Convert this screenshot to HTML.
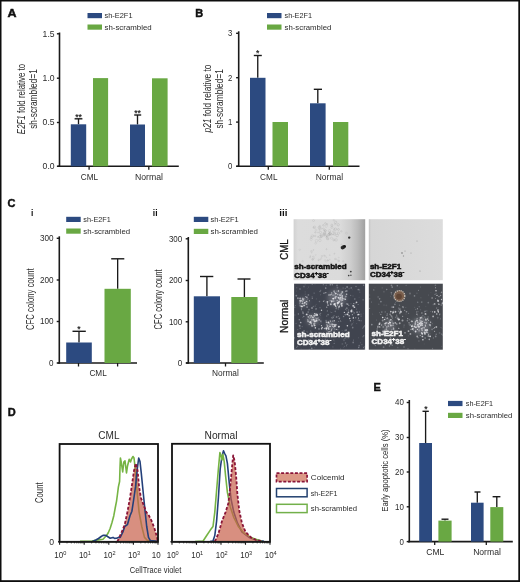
<!DOCTYPE html><html><head><meta charset="utf-8"><style>html,body{margin:0;padding:0;background:#fff;width:520px;height:582px;overflow:hidden}</style></head><body><svg width="520" height="582" viewBox="0 0 520 582" style="position:absolute;left:0;top:0;will-change:transform;font-family:'Liberation Sans', sans-serif">
<rect x="0" y="0" width="520" height="582" fill="#fff"/>
<text x="7.40" y="16.80" font-size="11" textLength="9.00" lengthAdjust="spacingAndGlyphs" font-weight="bold" fill="#111" stroke="#111" stroke-width="0.45">A</text>
<rect x="87.50" y="13.00" width="14.50" height="5.20" fill="#2c4a80" />
<rect x="87.50" y="24.50" width="14.50" height="5.20" fill="#69a843" />
<text x="104.50" y="18.40" font-size="7.6" textLength="28.00" lengthAdjust="spacingAndGlyphs" fill="#2a2a2a" >sh-E2F1</text>
<text x="104.50" y="29.90" font-size="7.6" textLength="47.20" lengthAdjust="spacingAndGlyphs" fill="#2a2a2a" >sh-scrambled</text>
<line x1="59.50" y1="32.50" x2="59.50" y2="167.00" stroke="#1a1a1a" stroke-width="1.6" />
<line x1="56.90" y1="33.80" x2="59.50" y2="33.80" stroke="#1a1a1a" stroke-width="1.4" />
<text x="54.60" y="36.70" font-size="8.3" text-anchor="end" textLength="12.00" lengthAdjust="spacingAndGlyphs" fill="#2a2a2a" >1.5</text>
<line x1="56.90" y1="78.20" x2="59.50" y2="78.20" stroke="#1a1a1a" stroke-width="1.4" />
<text x="54.60" y="81.11" font-size="8.3" text-anchor="end" textLength="12.00" lengthAdjust="spacingAndGlyphs" fill="#2a2a2a" >1.0</text>
<line x1="56.90" y1="122.50" x2="59.50" y2="122.50" stroke="#1a1a1a" stroke-width="1.4" />
<text x="54.60" y="125.41" font-size="8.3" text-anchor="end" textLength="12.00" lengthAdjust="spacingAndGlyphs" fill="#2a2a2a" >0.5</text>
<line x1="56.90" y1="166.30" x2="59.50" y2="166.30" stroke="#1a1a1a" stroke-width="1.4" />
<text x="54.60" y="169.21" font-size="8.3" text-anchor="end" textLength="12.00" lengthAdjust="spacingAndGlyphs" fill="#2a2a2a" >0.0</text>
<line x1="57.50" y1="166.30" x2="178.80" y2="166.30" stroke="#1a1a1a" stroke-width="1.6" />
<line x1="89.10" y1="166.30" x2="89.10" y2="169.80" stroke="#1a1a1a" stroke-width="1.3" />
<line x1="148.80" y1="166.30" x2="148.80" y2="169.80" stroke="#1a1a1a" stroke-width="1.3" />
<line x1="78.50" y1="124.30" x2="78.50" y2="118.80" stroke="#1a1a1a" stroke-width="1.35" />
<line x1="74.60" y1="118.80" x2="82.40" y2="118.80" stroke="#1a1a1a" stroke-width="1.4" />
<rect x="70.80" y="124.30" width="15.40" height="42.00" fill="#2c4a80" />
<rect x="93.00" y="78.10" width="15.10" height="88.20" fill="#69a843" />
<line x1="137.50" y1="124.50" x2="137.50" y2="115.00" stroke="#1a1a1a" stroke-width="1.35" />
<line x1="134.20" y1="115.00" x2="141.20" y2="115.00" stroke="#1a1a1a" stroke-width="1.4" />
<rect x="130.00" y="124.50" width="15.00" height="41.80" fill="#2c4a80" />
<rect x="152.00" y="78.30" width="15.60" height="88.00" fill="#69a843" />
<text x="78.50" y="120.00" font-size="8.5" text-anchor="middle" font-weight="bold" fill="#2a2a2a" >**</text>
<text x="137.60" y="115.80" font-size="8.5" text-anchor="middle" font-weight="bold" fill="#2a2a2a" >**</text>
<text x="89.40" y="179.60" font-size="8.3" text-anchor="middle" textLength="17.30" lengthAdjust="spacingAndGlyphs" fill="#2a2a2a" >CML</text>
<text x="149.00" y="179.60" font-size="8.3" text-anchor="middle" textLength="28.00" lengthAdjust="spacingAndGlyphs" fill="#2a2a2a" >Normal</text>
<text transform="translate(24.7,99.0) rotate(-90)" font-size="10.4" text-anchor="middle" fill="#2a2a2a" textLength="70.3" lengthAdjust="spacingAndGlyphs"><tspan font-style="italic">E2F1</tspan> fold relative to</text>
<text transform="translate(36.50,99.00) rotate(-90)" x="0" y="0" font-size="10.4" text-anchor="middle" textLength="59.60" lengthAdjust="spacingAndGlyphs" fill="#2a2a2a" >sh-scrambled=1</text>
<text x="195.20" y="16.80" font-size="11" font-weight="bold" fill="#111" stroke="#111" stroke-width="0.45">B</text>
<rect x="267.00" y="13.00" width="14.50" height="5.20" fill="#2c4a80" />
<rect x="267.00" y="24.50" width="14.50" height="5.20" fill="#69a843" />
<text x="284.50" y="18.40" font-size="7.6" textLength="27.50" lengthAdjust="spacingAndGlyphs" fill="#2a2a2a" >sh-E2F1</text>
<text x="284.50" y="29.90" font-size="7.6" textLength="46.80" lengthAdjust="spacingAndGlyphs" fill="#2a2a2a" >sh-scrambled</text>
<line x1="238.70" y1="31.30" x2="238.70" y2="167.00" stroke="#1a1a1a" stroke-width="1.6" />
<line x1="236.10" y1="33.30" x2="238.70" y2="33.30" stroke="#1a1a1a" stroke-width="1.4" />
<text x="232.40" y="36.45" font-size="9.0" text-anchor="end" textLength="4.30" lengthAdjust="spacingAndGlyphs" fill="#2a2a2a" >3</text>
<line x1="236.10" y1="77.70" x2="238.70" y2="77.70" stroke="#1a1a1a" stroke-width="1.4" />
<text x="232.40" y="80.85" font-size="9.0" text-anchor="end" textLength="4.30" lengthAdjust="spacingAndGlyphs" fill="#2a2a2a" >2</text>
<line x1="236.10" y1="122.10" x2="238.70" y2="122.10" stroke="#1a1a1a" stroke-width="1.4" />
<text x="232.40" y="125.25" font-size="9.0" text-anchor="end" textLength="4.30" lengthAdjust="spacingAndGlyphs" fill="#2a2a2a" >1</text>
<line x1="236.10" y1="166.30" x2="238.70" y2="166.30" stroke="#1a1a1a" stroke-width="1.4" />
<text x="232.40" y="169.45" font-size="9.0" text-anchor="end" textLength="4.30" lengthAdjust="spacingAndGlyphs" fill="#2a2a2a" >0</text>
<line x1="236.40" y1="166.30" x2="359.50" y2="166.30" stroke="#1a1a1a" stroke-width="1.6" />
<line x1="268.30" y1="166.30" x2="268.30" y2="169.80" stroke="#1a1a1a" stroke-width="1.3" />
<line x1="329.30" y1="166.30" x2="329.30" y2="169.80" stroke="#1a1a1a" stroke-width="1.3" />
<line x1="257.75" y1="77.80" x2="257.75" y2="55.50" stroke="#1a1a1a" stroke-width="1.35" />
<line x1="253.80" y1="55.50" x2="261.80" y2="55.50" stroke="#1a1a1a" stroke-width="1.4" />
<rect x="250.00" y="77.80" width="15.50" height="88.50" fill="#2c4a80" />
<rect x="272.50" y="122.00" width="15.50" height="44.30" fill="#69a843" />
<line x1="317.80" y1="103.30" x2="317.80" y2="89.30" stroke="#1a1a1a" stroke-width="1.35" />
<line x1="313.80" y1="89.30" x2="322.00" y2="89.30" stroke="#1a1a1a" stroke-width="1.4" />
<rect x="310.00" y="103.30" width="15.60" height="63.00" fill="#2c4a80" />
<rect x="333.00" y="122.00" width="15.30" height="44.30" fill="#69a843" />
<text x="257.60" y="56.20" font-size="8.5" text-anchor="middle" font-weight="bold" fill="#2a2a2a" >*</text>
<text x="268.80" y="179.60" font-size="8.3" text-anchor="middle" textLength="17.40" lengthAdjust="spacingAndGlyphs" fill="#2a2a2a" >CML</text>
<text x="329.40" y="179.60" font-size="8.3" text-anchor="middle" textLength="27.30" lengthAdjust="spacingAndGlyphs" fill="#2a2a2a" >Normal</text>
<text transform="translate(210.7,98.5) rotate(-90)" font-size="10.4" text-anchor="middle" fill="#2a2a2a" textLength="67.8" lengthAdjust="spacingAndGlyphs"><tspan font-style="italic">p21</tspan> fold relative to</text>
<text transform="translate(222.70,98.85) rotate(-90)" x="0" y="0" font-size="10.4" text-anchor="middle" textLength="59.40" lengthAdjust="spacingAndGlyphs" fill="#2a2a2a" >sh-scrambled=1</text>
<text x="7.60" y="207.20" font-size="11" font-weight="bold" fill="#111" stroke="#111" stroke-width="0.45">C</text>
<text x="31.00" y="216.20" font-size="8.5" font-weight="bold" fill="#111" >i</text>
<text x="152.80" y="216.30" font-size="8.5" font-weight="bold" fill="#111" >ii</text>
<text x="279.30" y="216.30" font-size="8.5" font-weight="bold" fill="#111" textLength="8.2" lengthAdjust="spacingAndGlyphs">iii</text>
<rect x="66.20" y="216.80" width="14.50" height="5.20" fill="#2c4a80" />
<rect x="66.20" y="228.50" width="14.50" height="5.20" fill="#69a843" />
<text x="83.30" y="222.20" font-size="7.6" textLength="27.50" lengthAdjust="spacingAndGlyphs" fill="#2a2a2a" >sh-E2F1</text>
<text x="83.30" y="233.90" font-size="7.6" textLength="46.80" lengthAdjust="spacingAndGlyphs" fill="#2a2a2a" >sh-scrambled</text>
<line x1="59.30" y1="236.30" x2="59.30" y2="363.70" stroke="#1a1a1a" stroke-width="1.6" />
<line x1="56.70" y1="238.30" x2="59.30" y2="238.30" stroke="#1a1a1a" stroke-width="1.4" />
<text x="53.60" y="241.21" font-size="8.3" text-anchor="end" textLength="13.60" lengthAdjust="spacingAndGlyphs" fill="#2a2a2a" >300</text>
<line x1="56.70" y1="280.00" x2="59.30" y2="280.00" stroke="#1a1a1a" stroke-width="1.4" />
<text x="53.60" y="282.90" font-size="8.3" text-anchor="end" textLength="13.60" lengthAdjust="spacingAndGlyphs" fill="#2a2a2a" >200</text>
<line x1="56.70" y1="321.50" x2="59.30" y2="321.50" stroke="#1a1a1a" stroke-width="1.4" />
<text x="53.60" y="324.40" font-size="8.3" text-anchor="end" textLength="13.60" lengthAdjust="spacingAndGlyphs" fill="#2a2a2a" >100</text>
<line x1="56.70" y1="363.00" x2="59.30" y2="363.00" stroke="#1a1a1a" stroke-width="1.4" />
<text x="53.60" y="365.90" font-size="8.3" text-anchor="end" textLength="4.50" lengthAdjust="spacingAndGlyphs" fill="#2a2a2a" >0</text>
<line x1="57.50" y1="363.00" x2="137.00" y2="363.00" stroke="#1a1a1a" stroke-width="1.6" />
<line x1="78.50" y1="363.00" x2="78.50" y2="366.50" stroke="#1a1a1a" stroke-width="1.3" />
<line x1="117.60" y1="363.00" x2="117.60" y2="366.50" stroke="#1a1a1a" stroke-width="1.3" />
<line x1="79.00" y1="342.50" x2="79.00" y2="331.30" stroke="#1a1a1a" stroke-width="1.35" />
<line x1="72.50" y1="331.30" x2="85.80" y2="331.30" stroke="#1a1a1a" stroke-width="1.4" />
<rect x="66.20" y="342.50" width="25.60" height="20.50" fill="#2c4a80" />
<line x1="117.65" y1="288.80" x2="117.65" y2="258.80" stroke="#1a1a1a" stroke-width="1.35" />
<line x1="111.20" y1="258.80" x2="124.30" y2="258.80" stroke="#1a1a1a" stroke-width="1.4" />
<rect x="104.50" y="288.80" width="26.30" height="74.20" fill="#69a843" />
<text x="78.80" y="331.80" font-size="8.5" text-anchor="middle" font-weight="bold" fill="#2a2a2a" >*</text>
<text x="98.10" y="376.40" font-size="8.3" text-anchor="middle" textLength="17.30" lengthAdjust="spacingAndGlyphs" fill="#2a2a2a" >CML</text>
<text transform="translate(33.80,299.20) rotate(-90)" x="0" y="0" font-size="10.4" text-anchor="middle" textLength="61.60" lengthAdjust="spacingAndGlyphs" fill="#2a2a2a" >CFC colony count</text>
<rect x="193.80" y="216.80" width="14.50" height="5.20" fill="#2c4a80" />
<rect x="193.80" y="228.80" width="14.50" height="5.20" fill="#69a843" />
<text x="210.50" y="222.20" font-size="7.6" textLength="28.20" lengthAdjust="spacingAndGlyphs" fill="#2a2a2a" >sh-E2F1</text>
<text x="210.50" y="234.20" font-size="7.6" textLength="47.50" lengthAdjust="spacingAndGlyphs" fill="#2a2a2a" >sh-scrambled</text>
<line x1="188.30" y1="237.00" x2="188.30" y2="363.70" stroke="#1a1a1a" stroke-width="1.6" />
<line x1="185.70" y1="238.80" x2="188.30" y2="238.80" stroke="#1a1a1a" stroke-width="1.4" />
<text x="182.20" y="241.71" font-size="8.3" text-anchor="end" textLength="13.30" lengthAdjust="spacingAndGlyphs" fill="#2a2a2a" >300</text>
<line x1="185.70" y1="280.50" x2="188.30" y2="280.50" stroke="#1a1a1a" stroke-width="1.4" />
<text x="182.20" y="283.40" font-size="8.3" text-anchor="end" textLength="13.30" lengthAdjust="spacingAndGlyphs" fill="#2a2a2a" >200</text>
<line x1="185.70" y1="321.80" x2="188.30" y2="321.80" stroke="#1a1a1a" stroke-width="1.4" />
<text x="182.20" y="324.70" font-size="8.3" text-anchor="end" textLength="13.30" lengthAdjust="spacingAndGlyphs" fill="#2a2a2a" >100</text>
<line x1="185.70" y1="363.00" x2="188.30" y2="363.00" stroke="#1a1a1a" stroke-width="1.4" />
<text x="182.20" y="365.90" font-size="8.3" text-anchor="end" textLength="4.50" lengthAdjust="spacingAndGlyphs" fill="#2a2a2a" >0</text>
<line x1="186.00" y1="363.00" x2="263.80" y2="363.00" stroke="#1a1a1a" stroke-width="1.6" />
<line x1="225.50" y1="363.00" x2="225.50" y2="366.50" stroke="#1a1a1a" stroke-width="1.3" />
<line x1="206.90" y1="296.30" x2="206.90" y2="276.50" stroke="#1a1a1a" stroke-width="1.35" />
<line x1="200.00" y1="276.50" x2="213.30" y2="276.50" stroke="#1a1a1a" stroke-width="1.4" />
<rect x="193.80" y="296.30" width="26.20" height="66.70" fill="#2c4a80" />
<line x1="244.40" y1="297.00" x2="244.40" y2="279.00" stroke="#1a1a1a" stroke-width="1.35" />
<line x1="237.50" y1="279.00" x2="250.50" y2="279.00" stroke="#1a1a1a" stroke-width="1.4" />
<rect x="231.30" y="297.00" width="26.20" height="66.00" fill="#69a843" />
<text x="225.40" y="376.40" font-size="8.3" text-anchor="middle" textLength="26.80" lengthAdjust="spacingAndGlyphs" fill="#2a2a2a" >Normal</text>
<text transform="translate(162.20,299.40) rotate(-90)" x="0" y="0" font-size="10.4" text-anchor="middle" textLength="60.00" lengthAdjust="spacingAndGlyphs" fill="#2a2a2a" >CFC colony count</text>
<defs><linearGradient id="gTL" x1="0" y1="0" x2="1" y2="0"><stop offset="0" stop-color="#d2d2d2"/><stop offset="0.06" stop-color="#dcdcdc"/><stop offset="0.65" stop-color="#dbdbdb"/><stop offset="0.8" stop-color="#cdcdcd"/><stop offset="0.9" stop-color="#bababa"/><stop offset="1" stop-color="#a0a0a0"/></linearGradient><linearGradient id="gTR" x1="0" y1="0" x2="1" y2="0"><stop offset="0" stop-color="#c4c4c4"/><stop offset="0.03" stop-color="#d6d6d6"/><stop offset="0.5" stop-color="#d9d9d9"/><stop offset="1" stop-color="#dcdcdc"/></linearGradient><filter id="blur1" x="-5%" y="-5%" width="110%" height="110%"><feGaussianBlur stdDeviation="0.45"/></filter><filter id="blur2" x="-20%" y="-20%" width="140%" height="140%"><feGaussianBlur stdDeviation="0.9"/></filter><filter id="blur3" x="-50%" y="-50%" width="200%" height="200%"><feGaussianBlur stdDeviation="2.5"/></filter><clipPath id="cBL"><rect x="294.1" y="283.7" width="71.0" height="66.0"/></clipPath><clipPath id="cBR"><rect x="368.8" y="283.7" width="74.0" height="66.0"/></clipPath><clipPath id="cTL"><rect x="293.6" y="219.2" width="71.6" height="61.0"/></clipPath></defs>
<rect x="293.60" y="219.20" width="71.60" height="61.00" fill="url(#gTL)" />
<g clip-path="url(#cTL)"><g filter="url(#blur1)"><circle cx="325.0" cy="234.1" r="1.06" fill="none" stroke="#a8a8a8" stroke-width="0.5" opacity="0.33"/><circle cx="319.6" cy="229.7" r="0.64" fill="none" stroke="#a8a8a8" stroke-width="0.5" opacity="0.50"/><circle cx="335.3" cy="232.5" r="0.65" fill="none" stroke="#a8a8a8" stroke-width="0.5" opacity="0.34"/><circle cx="313.7" cy="236.1" r="0.69" fill="none" stroke="#a8a8a8" stroke-width="0.5" opacity="0.39"/><circle cx="313.5" cy="220.5" r="1.00" fill="none" stroke="#a8a8a8" stroke-width="0.5" opacity="0.46"/><circle cx="329.4" cy="230.7" r="1.20" fill="none" stroke="#a8a8a8" stroke-width="0.5" opacity="0.42"/><circle cx="329.5" cy="233.4" r="0.82" fill="none" stroke="#a8a8a8" stroke-width="0.5" opacity="0.63"/><circle cx="331.5" cy="238.2" r="1.05" fill="none" stroke="#a8a8a8" stroke-width="0.5" opacity="0.45"/><circle cx="324.2" cy="230.4" r="0.64" fill="none" stroke="#a8a8a8" stroke-width="0.5" opacity="0.38"/><circle cx="323.4" cy="225.3" r="0.82" fill="none" stroke="#a8a8a8" stroke-width="0.5" opacity="0.53"/><circle cx="320.5" cy="232.5" r="1.16" fill="none" stroke="#a8a8a8" stroke-width="0.5" opacity="0.58"/><circle cx="327.4" cy="238.8" r="0.97" fill="none" stroke="#a8a8a8" stroke-width="0.5" opacity="0.65"/><circle cx="326.2" cy="226.1" r="1.29" fill="none" stroke="#a8a8a8" stroke-width="0.5" opacity="0.35"/><circle cx="315.3" cy="236.0" r="0.71" fill="none" stroke="#a8a8a8" stroke-width="0.5" opacity="0.50"/><circle cx="338.5" cy="233.2" r="1.14" fill="none" stroke="#a8a8a8" stroke-width="0.5" opacity="0.53"/><circle cx="331.9" cy="227.3" r="1.09" fill="none" stroke="#a8a8a8" stroke-width="0.5" opacity="0.54"/><circle cx="319.3" cy="227.8" r="1.19" fill="none" stroke="#a8a8a8" stroke-width="0.5" opacity="0.68"/><circle cx="315.3" cy="232.4" r="0.64" fill="none" stroke="#a8a8a8" stroke-width="0.5" opacity="0.58"/><circle cx="311.8" cy="215.9" r="1.18" fill="none" stroke="#a8a8a8" stroke-width="0.5" opacity="0.41"/><circle cx="318.0" cy="236.9" r="0.62" fill="none" stroke="#a8a8a8" stroke-width="0.5" opacity="0.48"/><circle cx="329.0" cy="233.6" r="0.64" fill="none" stroke="#a8a8a8" stroke-width="0.5" opacity="0.61"/><circle cx="331.1" cy="234.3" r="0.87" fill="none" stroke="#a8a8a8" stroke-width="0.5" opacity="0.65"/><circle cx="334.6" cy="234.2" r="0.98" fill="none" stroke="#a8a8a8" stroke-width="0.5" opacity="0.65"/><circle cx="333.7" cy="220.1" r="0.79" fill="none" stroke="#a8a8a8" stroke-width="0.5" opacity="0.47"/><circle cx="316.5" cy="240.7" r="1.27" fill="none" stroke="#a8a8a8" stroke-width="0.5" opacity="0.36"/><circle cx="329.6" cy="234.9" r="0.76" fill="none" stroke="#a8a8a8" stroke-width="0.5" opacity="0.49"/><circle cx="321.7" cy="228.5" r="0.60" fill="none" stroke="#a8a8a8" stroke-width="0.5" opacity="0.47"/><circle cx="320.0" cy="236.7" r="1.27" fill="none" stroke="#a8a8a8" stroke-width="0.5" opacity="0.58"/><circle cx="316.0" cy="230.2" r="1.07" fill="none" stroke="#a8a8a8" stroke-width="0.5" opacity="0.32"/><circle cx="338.2" cy="224.8" r="1.21" fill="none" stroke="#a8a8a8" stroke-width="0.5" opacity="0.62"/><circle cx="320.7" cy="234.8" r="0.67" fill="none" stroke="#a8a8a8" stroke-width="0.5" opacity="0.55"/><circle cx="329.8" cy="231.9" r="0.75" fill="none" stroke="#a8a8a8" stroke-width="0.5" opacity="0.36"/><circle cx="325.6" cy="232.7" r="0.60" fill="none" stroke="#a8a8a8" stroke-width="0.5" opacity="0.36"/><circle cx="333.1" cy="234.4" r="0.62" fill="none" stroke="#a8a8a8" stroke-width="0.5" opacity="0.65"/><circle cx="323.6" cy="228.8" r="0.78" fill="none" stroke="#a8a8a8" stroke-width="0.5" opacity="0.44"/><circle cx="324.3" cy="233.3" r="1.19" fill="none" stroke="#a8a8a8" stroke-width="0.5" opacity="0.70"/><circle cx="318.0" cy="232.5" r="0.66" fill="none" stroke="#a8a8a8" stroke-width="0.5" opacity="0.34"/><circle cx="323.6" cy="234.9" r="1.18" fill="none" stroke="#a8a8a8" stroke-width="0.5" opacity="0.36"/><circle cx="346.4" cy="233.1" r="0.97" fill="none" stroke="#a8a8a8" stroke-width="0.5" opacity="0.36"/><circle cx="325.2" cy="230.6" r="0.97" fill="none" stroke="#a8a8a8" stroke-width="0.5" opacity="0.69"/><circle cx="335.1" cy="224.0" r="0.78" fill="none" stroke="#a8a8a8" stroke-width="0.5" opacity="0.45"/><circle cx="333.8" cy="239.9" r="0.97" fill="none" stroke="#a8a8a8" stroke-width="0.5" opacity="0.61"/><circle cx="324.3" cy="234.7" r="1.17" fill="none" stroke="#a8a8a8" stroke-width="0.5" opacity="0.69"/><circle cx="335.7" cy="222.3" r="1.17" fill="none" stroke="#a8a8a8" stroke-width="0.5" opacity="0.60"/><circle cx="328.4" cy="238.2" r="0.85" fill="none" stroke="#a8a8a8" stroke-width="0.5" opacity="0.31"/><circle cx="333.4" cy="231.8" r="0.78" fill="none" stroke="#a8a8a8" stroke-width="0.5" opacity="0.58"/><circle cx="335.4" cy="229.2" r="1.26" fill="none" stroke="#a8a8a8" stroke-width="0.5" opacity="0.70"/><circle cx="334.3" cy="229.4" r="0.75" fill="none" stroke="#a8a8a8" stroke-width="0.5" opacity="0.39"/><circle cx="328.8" cy="234.8" r="1.04" fill="none" stroke="#a8a8a8" stroke-width="0.5" opacity="0.66"/><circle cx="331.9" cy="225.2" r="1.06" fill="none" stroke="#a8a8a8" stroke-width="0.5" opacity="0.62"/><circle cx="337.1" cy="235.5" r="1.24" fill="none" stroke="#a8a8a8" stroke-width="0.5" opacity="0.61"/><circle cx="327.0" cy="224.2" r="0.72" fill="none" stroke="#a8a8a8" stroke-width="0.5" opacity="0.62"/><circle cx="319.9" cy="240.4" r="1.28" fill="none" stroke="#a8a8a8" stroke-width="0.5" opacity="0.46"/><circle cx="311.2" cy="239.4" r="1.11" fill="none" stroke="#a8a8a8" stroke-width="0.5" opacity="0.37"/><circle cx="330.2" cy="233.5" r="1.23" fill="none" stroke="#a8a8a8" stroke-width="0.5" opacity="0.62"/><circle cx="336.1" cy="239.9" r="1.29" fill="none" stroke="#a8a8a8" stroke-width="0.5" opacity="0.56"/><circle cx="321.0" cy="237.1" r="0.69" fill="none" stroke="#a8a8a8" stroke-width="0.5" opacity="0.31"/><circle cx="338.4" cy="229.4" r="0.97" fill="none" stroke="#a8a8a8" stroke-width="0.5" opacity="0.67"/><circle cx="312.2" cy="235.9" r="1.18" fill="none" stroke="#a8a8a8" stroke-width="0.5" opacity="0.38"/><circle cx="326.9" cy="236.0" r="0.77" fill="none" stroke="#a8a8a8" stroke-width="0.5" opacity="0.53"/><circle cx="326.5" cy="237.2" r="0.69" fill="none" stroke="#a8a8a8" stroke-width="0.5" opacity="0.66"/><circle cx="321.6" cy="236.3" r="1.01" fill="none" stroke="#a8a8a8" stroke-width="0.5" opacity="0.66"/><circle cx="311.3" cy="237.4" r="0.95" fill="none" stroke="#a8a8a8" stroke-width="0.5" opacity="0.51"/><circle cx="325.5" cy="230.8" r="0.91" fill="none" stroke="#a8a8a8" stroke-width="0.5" opacity="0.37"/><circle cx="341.3" cy="231.3" r="0.72" fill="none" stroke="#a8a8a8" stroke-width="0.5" opacity="0.49"/><circle cx="325.4" cy="223.4" r="0.83" fill="none" stroke="#a8a8a8" stroke-width="0.5" opacity="0.51"/><circle cx="313.8" cy="227.4" r="0.67" fill="none" stroke="#a8a8a8" stroke-width="0.5" opacity="0.52"/><circle cx="327.1" cy="235.8" r="1.14" fill="none" stroke="#a8a8a8" stroke-width="0.5" opacity="0.50"/><circle cx="314.5" cy="227.2" r="1.24" fill="none" stroke="#a8a8a8" stroke-width="0.5" opacity="0.48"/><circle cx="319.8" cy="226.4" r="0.96" fill="none" stroke="#a8a8a8" stroke-width="0.5" opacity="0.58"/><circle cx="310.2" cy="257.2" r="0.64" fill="none" stroke="#b0b0b0" stroke-width="0.5" opacity="0.58"/><circle cx="315.6" cy="243.3" r="0.87" fill="none" stroke="#b0b0b0" stroke-width="0.5" opacity="0.38"/><circle cx="299.7" cy="249.7" r="0.82" fill="none" stroke="#b0b0b0" stroke-width="0.5" opacity="0.34"/><circle cx="329.8" cy="259.5" r="0.44" fill="none" stroke="#b0b0b0" stroke-width="0.5" opacity="0.37"/><circle cx="335.3" cy="259.0" r="0.79" fill="none" stroke="#b0b0b0" stroke-width="0.5" opacity="0.57"/><circle cx="331.0" cy="262.9" r="0.73" fill="none" stroke="#b0b0b0" stroke-width="0.5" opacity="0.34"/><circle cx="341.4" cy="244.5" r="0.51" fill="none" stroke="#b0b0b0" stroke-width="0.5" opacity="0.59"/><circle cx="312.7" cy="259.1" r="0.89" fill="none" stroke="#b0b0b0" stroke-width="0.5" opacity="0.55"/><circle cx="327.6" cy="260.4" r="0.66" fill="none" stroke="#b0b0b0" stroke-width="0.5" opacity="0.40"/><circle cx="324.9" cy="260.0" r="0.76" fill="none" stroke="#b0b0b0" stroke-width="0.5" opacity="0.31"/><circle cx="311.8" cy="252.8" r="0.41" fill="none" stroke="#b0b0b0" stroke-width="0.5" opacity="0.40"/><circle cx="313.5" cy="250.0" r="0.43" fill="none" stroke="#b0b0b0" stroke-width="0.5" opacity="0.60"/><circle cx="328.4" cy="239.4" r="0.45" fill="none" stroke="#b0b0b0" stroke-width="0.5" opacity="0.38"/><circle cx="338.8" cy="257.6" r="0.54" fill="none" stroke="#b0b0b0" stroke-width="0.5" opacity="0.34"/><circle cx="302.6" cy="261.2" r="0.81" fill="none" stroke="#b0b0b0" stroke-width="0.5" opacity="0.38"/><circle cx="335.3" cy="265.9" r="0.69" fill="none" stroke="#b0b0b0" stroke-width="0.5" opacity="0.51"/><circle cx="324.9" cy="256.1" r="0.74" fill="none" stroke="#b0b0b0" stroke-width="0.5" opacity="0.43"/><circle cx="343.2" cy="261.2" r="0.72" fill="none" stroke="#b0b0b0" stroke-width="0.5" opacity="0.54"/><circle cx="339.0" cy="260.9" r="0.43" fill="none" stroke="#b0b0b0" stroke-width="0.5" opacity="0.56"/><circle cx="313.3" cy="256.6" r="0.68" fill="none" stroke="#b0b0b0" stroke-width="0.5" opacity="0.58"/><circle cx="321.4" cy="258.1" r="0.66" fill="none" stroke="#b0b0b0" stroke-width="0.5" opacity="0.37"/><circle cx="326.6" cy="257.3" r="0.43" fill="none" stroke="#b0b0b0" stroke-width="0.5" opacity="0.36"/><circle cx="318.8" cy="259.7" r="0.78" fill="none" stroke="#b0b0b0" stroke-width="0.5" opacity="0.39"/><circle cx="315.7" cy="255.0" r="0.57" fill="none" stroke="#b0b0b0" stroke-width="0.5" opacity="0.31"/><circle cx="322.0" cy="256.1" r="0.77" fill="none" stroke="#b0b0b0" stroke-width="0.5" opacity="0.47"/><circle cx="326.2" cy="261.3" r="0.87" fill="none" stroke="#b0b0b0" stroke-width="0.5" opacity="0.33"/><circle cx="326.5" cy="249.2" r="0.65" fill="none" stroke="#b0b0b0" stroke-width="0.5" opacity="0.55"/><circle cx="312.7" cy="259.4" r="0.74" fill="none" stroke="#b0b0b0" stroke-width="0.5" opacity="0.59"/><circle cx="311.6" cy="264.5" r="0.75" fill="none" stroke="#b0b0b0" stroke-width="0.5" opacity="0.49"/><circle cx="314.4" cy="258.1" r="0.43" fill="none" stroke="#b0b0b0" stroke-width="0.5" opacity="0.34"/><circle cx="336.8" cy="259.2" r="0.53" fill="none" stroke="#b0b0b0" stroke-width="0.5" opacity="0.35"/><circle cx="338.5" cy="260.8" r="0.84" fill="none" stroke="#b0b0b0" stroke-width="0.5" opacity="0.50"/><circle cx="320.5" cy="259.4" r="0.55" fill="none" stroke="#b0b0b0" stroke-width="0.5" opacity="0.44"/><circle cx="328.0" cy="260.4" r="0.53" fill="none" stroke="#b0b0b0" stroke-width="0.5" opacity="0.59"/><circle cx="334.4" cy="253.7" r="0.52" fill="none" stroke="#b0b0b0" stroke-width="0.5" opacity="0.59"/><circle cx="318.6" cy="260.2" r="0.40" fill="none" stroke="#b0b0b0" stroke-width="0.5" opacity="0.41"/><circle cx="310.3" cy="256.1" r="0.50" fill="none" stroke="#b0b0b0" stroke-width="0.5" opacity="0.45"/><circle cx="329.8" cy="255.1" r="0.44" fill="none" stroke="#b0b0b0" stroke-width="0.5" opacity="0.42"/><circle cx="324.1" cy="255.3" r="0.55" fill="none" stroke="#b0b0b0" stroke-width="0.5" opacity="0.37"/><circle cx="311.5" cy="251.2" r="0.78" fill="none" stroke="#b0b0b0" stroke-width="0.5" opacity="0.50"/></g><g filter="url(#blur1)"><ellipse cx="343.2" cy="247.2" rx="2.7" ry="1.9" transform="rotate(-25 343.2 247.2)" fill="#2a2a2a"/><ellipse cx="344.6" cy="246.4" rx="1.4" ry="1.1" fill="#151515"/><circle cx="349.2" cy="237.6" r="1.2" fill="#333"/><circle cx="350.8" cy="271.6" r="0.9" fill="#3a3a3a"/><circle cx="348.7" cy="275.6" r="0.8" fill="#3a3a3a"/><circle cx="350.9" cy="275.3" r="0.7" fill="#444"/></g></g>
<rect x="368.80" y="219.20" width="74.00" height="61.00" fill="url(#gTR)" />
<g filter="url(#blur1)"><circle cx="402" cy="253" r="0.9" fill="#999"/><circle cx="403.5" cy="256" r="0.7" fill="#999"/><circle cx="405" cy="251" r="0.6" fill="#999"/><circle cx="417" cy="241" r="0.5" fill="#999"/><circle cx="420" cy="271" r="0.6" fill="#999"/><circle cx="411" cy="253" r="0.5" fill="#999"/></g>
<rect x="294.10" y="283.70" width="71.00" height="66.00" fill="#40444f" />
<g clip-path="url(#cBL)"><g filter="url(#blur3)"><ellipse cx="337" cy="298" rx="9" ry="8" fill="#9a9ca4" opacity="0.45"/><ellipse cx="304" cy="302" rx="4" ry="4" fill="#9a9ca4" opacity="0.5"/><ellipse cx="313" cy="320" rx="6" ry="5" fill="#9a9ca4" opacity="0.55"/><ellipse cx="331" cy="326" rx="5" ry="4" fill="#9a9ca4" opacity="0.5"/></g><g filter="url(#blur1)"><circle cx="326.1" cy="320.6" r="0.86" fill="#b8bcc4" opacity="0.34"/><circle cx="330.1" cy="322.5" r="0.49" fill="#b8bcc4" opacity="0.35"/><circle cx="338.7" cy="336.0" r="0.45" fill="#b8bcc4" opacity="0.27"/><circle cx="300.4" cy="337.1" r="0.75" fill="#b8bcc4" opacity="0.17"/><circle cx="363.7" cy="347.4" r="0.73" fill="#b8bcc4" opacity="0.40"/><circle cx="305.2" cy="284.7" r="0.66" fill="#b8bcc4" opacity="0.17"/><circle cx="307.5" cy="299.7" r="0.42" fill="#b8bcc4" opacity="0.34"/><circle cx="325.3" cy="339.3" r="0.66" fill="#b8bcc4" opacity="0.41"/><circle cx="329.5" cy="327.4" r="0.63" fill="#b8bcc4" opacity="0.26"/><circle cx="364.8" cy="349.4" r="0.82" fill="#b8bcc4" opacity="0.43"/><circle cx="316.4" cy="298.9" r="0.54" fill="#b8bcc4" opacity="0.18"/><circle cx="348.4" cy="310.1" r="0.82" fill="#b8bcc4" opacity="0.30"/><circle cx="362.0" cy="339.6" r="0.40" fill="#b8bcc4" opacity="0.23"/><circle cx="358.6" cy="314.7" r="0.89" fill="#b8bcc4" opacity="0.31"/><circle cx="299.2" cy="325.2" r="0.79" fill="#b8bcc4" opacity="0.26"/><circle cx="300.2" cy="305.7" r="0.88" fill="#b8bcc4" opacity="0.45"/><circle cx="302.4" cy="300.0" r="0.45" fill="#b8bcc4" opacity="0.17"/><circle cx="350.6" cy="295.4" r="0.68" fill="#b8bcc4" opacity="0.33"/><circle cx="307.5" cy="332.0" r="0.47" fill="#b8bcc4" opacity="0.41"/><circle cx="302.3" cy="311.5" r="0.51" fill="#b8bcc4" opacity="0.26"/><circle cx="362.9" cy="336.7" r="0.55" fill="#b8bcc4" opacity="0.50"/><circle cx="309.0" cy="309.7" r="0.83" fill="#b8bcc4" opacity="0.41"/><circle cx="301.1" cy="349.0" r="0.51" fill="#b8bcc4" opacity="0.25"/><circle cx="348.9" cy="305.4" r="0.55" fill="#b8bcc4" opacity="0.18"/><circle cx="300.4" cy="322.2" r="0.52" fill="#b8bcc4" opacity="0.39"/><circle cx="320.4" cy="313.6" r="0.88" fill="#b8bcc4" opacity="0.34"/><circle cx="334.8" cy="340.9" r="0.49" fill="#b8bcc4" opacity="0.21"/><circle cx="358.5" cy="337.7" r="0.52" fill="#b8bcc4" opacity="0.23"/><circle cx="346.5" cy="345.8" r="0.50" fill="#b8bcc4" opacity="0.53"/><circle cx="356.6" cy="323.5" r="0.61" fill="#b8bcc4" opacity="0.19"/><circle cx="296.7" cy="347.2" r="0.52" fill="#b8bcc4" opacity="0.43"/><circle cx="312.2" cy="338.1" r="0.70" fill="#b8bcc4" opacity="0.27"/><circle cx="306.5" cy="331.2" r="0.43" fill="#b8bcc4" opacity="0.24"/><circle cx="333.7" cy="340.0" r="0.71" fill="#b8bcc4" opacity="0.26"/><circle cx="359.1" cy="297.2" r="0.41" fill="#b8bcc4" opacity="0.26"/><circle cx="325.6" cy="287.7" r="0.49" fill="#b8bcc4" opacity="0.30"/><circle cx="334.6" cy="292.4" r="0.58" fill="#b8bcc4" opacity="0.51"/><circle cx="363.6" cy="327.1" r="0.75" fill="#b8bcc4" opacity="0.38"/><circle cx="304.0" cy="286.0" r="0.41" fill="#b8bcc4" opacity="0.51"/><circle cx="343.8" cy="347.2" r="0.41" fill="#b8bcc4" opacity="0.40"/><circle cx="328.2" cy="331.9" r="0.56" fill="#b8bcc4" opacity="0.55"/><circle cx="299.3" cy="319.7" r="0.77" fill="#b8bcc4" opacity="0.51"/><circle cx="346.3" cy="330.1" r="0.80" fill="#b8bcc4" opacity="0.52"/><circle cx="319.0" cy="328.9" r="0.85" fill="#b8bcc4" opacity="0.50"/><circle cx="323.6" cy="335.9" r="0.83" fill="#b8bcc4" opacity="0.38"/><circle cx="338.4" cy="308.9" r="0.69" fill="#b8bcc4" opacity="0.39"/><circle cx="299.7" cy="325.9" r="0.90" fill="#b8bcc4" opacity="0.50"/><circle cx="345.7" cy="309.3" r="0.77" fill="#b8bcc4" opacity="0.38"/><circle cx="325.3" cy="339.0" r="0.44" fill="#b8bcc4" opacity="0.45"/><circle cx="296.1" cy="323.4" r="0.64" fill="#b8bcc4" opacity="0.24"/><circle cx="343.6" cy="316.5" r="0.71" fill="#b8bcc4" opacity="0.52"/><circle cx="312.2" cy="284.4" r="0.55" fill="#b8bcc4" opacity="0.42"/><circle cx="308.4" cy="294.9" r="0.85" fill="#b8bcc4" opacity="0.41"/><circle cx="325.4" cy="342.6" r="0.56" fill="#b8bcc4" opacity="0.42"/><circle cx="308.1" cy="312.1" r="0.80" fill="#b8bcc4" opacity="0.52"/><circle cx="356.5" cy="309.1" r="0.69" fill="#b8bcc4" opacity="0.28"/><circle cx="303.7" cy="316.5" r="0.82" fill="#b8bcc4" opacity="0.49"/><circle cx="344.5" cy="346.4" r="0.54" fill="#b8bcc4" opacity="0.22"/><circle cx="326.0" cy="301.9" r="0.51" fill="#b8bcc4" opacity="0.32"/><circle cx="338.4" cy="316.3" r="0.56" fill="#b8bcc4" opacity="0.49"/><circle cx="363.7" cy="313.6" r="0.44" fill="#b8bcc4" opacity="0.16"/><circle cx="356.0" cy="286.4" r="0.75" fill="#b8bcc4" opacity="0.38"/><circle cx="315.9" cy="335.9" r="0.41" fill="#b8bcc4" opacity="0.20"/><circle cx="326.3" cy="285.3" r="0.81" fill="#b8bcc4" opacity="0.24"/><circle cx="304.0" cy="286.8" r="0.71" fill="#b8bcc4" opacity="0.33"/><circle cx="338.7" cy="326.9" r="0.80" fill="#b8bcc4" opacity="0.53"/><circle cx="342.6" cy="296.9" r="0.64" fill="#b8bcc4" opacity="0.22"/><circle cx="294.8" cy="314.9" r="0.76" fill="#b8bcc4" opacity="0.22"/><circle cx="313.3" cy="306.5" r="0.75" fill="#b8bcc4" opacity="0.36"/><circle cx="337.6" cy="333.6" r="0.60" fill="#b8bcc4" opacity="0.47"/><circle cx="358.3" cy="289.5" r="0.87" fill="#b8bcc4" opacity="0.44"/><circle cx="303.2" cy="313.6" r="0.71" fill="#b8bcc4" opacity="0.51"/><circle cx="320.8" cy="321.2" r="0.84" fill="#b8bcc4" opacity="0.47"/><circle cx="361.0" cy="314.3" r="0.73" fill="#b8bcc4" opacity="0.23"/><circle cx="345.3" cy="337.7" r="0.72" fill="#b8bcc4" opacity="0.44"/><circle cx="309.1" cy="343.1" r="0.89" fill="#b8bcc4" opacity="0.54"/><circle cx="332.1" cy="335.9" r="0.56" fill="#b8bcc4" opacity="0.51"/><circle cx="354.8" cy="306.7" r="0.44" fill="#b8bcc4" opacity="0.33"/><circle cx="333.1" cy="334.4" r="0.64" fill="#b8bcc4" opacity="0.16"/><circle cx="351.4" cy="287.9" r="0.80" fill="#b8bcc4" opacity="0.22"/><circle cx="317.8" cy="335.7" r="0.47" fill="#b8bcc4" opacity="0.21"/><circle cx="330.7" cy="331.5" r="0.82" fill="#b8bcc4" opacity="0.43"/><circle cx="361.1" cy="316.2" r="0.87" fill="#b8bcc4" opacity="0.18"/><circle cx="309.7" cy="318.5" r="0.55" fill="#b8bcc4" opacity="0.44"/><circle cx="339.4" cy="318.2" r="0.82" fill="#b8bcc4" opacity="0.37"/><circle cx="316.1" cy="308.9" r="0.82" fill="#b8bcc4" opacity="0.51"/><circle cx="308.8" cy="339.9" r="0.88" fill="#b8bcc4" opacity="0.36"/><circle cx="334.7" cy="297.0" r="0.67" fill="#b8bcc4" opacity="0.35"/><circle cx="337.0" cy="285.5" r="0.88" fill="#b8bcc4" opacity="0.36"/><circle cx="322.4" cy="336.6" r="0.68" fill="#b8bcc4" opacity="0.35"/><circle cx="343.1" cy="288.0" r="0.67" fill="#b8bcc4" opacity="0.32"/><circle cx="361.9" cy="344.6" r="0.53" fill="#b8bcc4" opacity="0.34"/><circle cx="303.0" cy="312.3" r="0.81" fill="#b8bcc4" opacity="0.51"/><circle cx="327.8" cy="304.6" r="0.50" fill="#b8bcc4" opacity="0.40"/><circle cx="359.7" cy="292.2" r="0.79" fill="#b8bcc4" opacity="0.16"/><circle cx="307.8" cy="298.7" r="0.74" fill="#b8bcc4" opacity="0.28"/><circle cx="319.2" cy="324.6" r="0.45" fill="#b8bcc4" opacity="0.44"/><circle cx="302.7" cy="317.4" r="0.53" fill="#b8bcc4" opacity="0.23"/><circle cx="331.7" cy="312.5" r="0.59" fill="#b8bcc4" opacity="0.32"/><circle cx="331.6" cy="294.2" r="0.50" fill="#b8bcc4" opacity="0.40"/><circle cx="339.3" cy="318.7" r="0.83" fill="#b8bcc4" opacity="0.39"/><circle cx="354.8" cy="299.1" r="0.77" fill="#b8bcc4" opacity="0.47"/><circle cx="358.1" cy="304.5" r="0.56" fill="#b8bcc4" opacity="0.52"/><circle cx="309.5" cy="349.6" r="0.84" fill="#b8bcc4" opacity="0.20"/><circle cx="311.0" cy="331.7" r="0.53" fill="#b8bcc4" opacity="0.19"/><circle cx="353.1" cy="311.5" r="0.79" fill="#b8bcc4" opacity="0.20"/><circle cx="322.6" cy="328.9" r="0.41" fill="#b8bcc4" opacity="0.23"/><circle cx="342.4" cy="343.9" r="0.88" fill="#b8bcc4" opacity="0.20"/><circle cx="329.9" cy="333.7" r="0.65" fill="#b8bcc4" opacity="0.42"/><circle cx="307.4" cy="288.4" r="0.45" fill="#b8bcc4" opacity="0.16"/><circle cx="333.2" cy="317.7" r="0.68" fill="#b8bcc4" opacity="0.21"/><circle cx="307.1" cy="297.2" r="0.82" fill="#b8bcc4" opacity="0.55"/><circle cx="359.8" cy="290.0" r="0.43" fill="#b8bcc4" opacity="0.53"/><circle cx="326.8" cy="334.2" r="0.56" fill="#b8bcc4" opacity="0.34"/><circle cx="330.6" cy="312.1" r="0.70" fill="#b8bcc4" opacity="0.16"/><circle cx="343.8" cy="339.4" r="0.49" fill="#b8bcc4" opacity="0.33"/><circle cx="346.5" cy="310.4" r="0.50" fill="#b8bcc4" opacity="0.22"/><circle cx="330.4" cy="284.7" r="0.85" fill="#b8bcc4" opacity="0.47"/><circle cx="344.0" cy="340.5" r="0.71" fill="#b8bcc4" opacity="0.31"/><circle cx="336.6" cy="317.0" r="0.89" fill="#b8bcc4" opacity="0.47"/><circle cx="312.3" cy="343.8" r="0.77" fill="#b8bcc4" opacity="0.46"/><circle cx="351.8" cy="310.5" r="0.85" fill="#b8bcc4" opacity="0.50"/><circle cx="343.3" cy="334.3" r="0.78" fill="#b8bcc4" opacity="0.31"/><circle cx="345.3" cy="288.4" r="0.57" fill="#b8bcc4" opacity="0.34"/><circle cx="294.8" cy="307.2" r="0.72" fill="#b8bcc4" opacity="0.40"/><circle cx="310.5" cy="346.0" r="0.73" fill="#b8bcc4" opacity="0.29"/><circle cx="340.8" cy="321.3" r="0.67" fill="#b8bcc4" opacity="0.31"/><circle cx="365.0" cy="326.1" r="0.75" fill="#b8bcc4" opacity="0.45"/><circle cx="363.6" cy="285.2" r="0.71" fill="#b8bcc4" opacity="0.45"/><circle cx="312.2" cy="310.2" r="0.43" fill="#b8bcc4" opacity="0.23"/><circle cx="320.7" cy="290.2" r="0.53" fill="#b8bcc4" opacity="0.51"/><circle cx="333.1" cy="317.2" r="0.88" fill="#b8bcc4" opacity="0.38"/><circle cx="364.7" cy="325.8" r="0.80" fill="#b8bcc4" opacity="0.18"/><circle cx="336.4" cy="333.8" r="0.42" fill="#b8bcc4" opacity="0.52"/><circle cx="305.4" cy="314.8" r="0.48" fill="#b8bcc4" opacity="0.35"/><circle cx="337.4" cy="287.6" r="0.87" fill="#b8bcc4" opacity="0.32"/><circle cx="331.4" cy="323.2" r="0.58" fill="#b8bcc4" opacity="0.26"/><circle cx="340.5" cy="320.7" r="0.54" fill="#b8bcc4" opacity="0.44"/><circle cx="315.0" cy="284.6" r="0.52" fill="#b8bcc4" opacity="0.17"/><circle cx="305.1" cy="333.5" r="0.59" fill="#b8bcc4" opacity="0.51"/><circle cx="347.1" cy="287.0" r="0.89" fill="#b8bcc4" opacity="0.53"/><circle cx="299.2" cy="343.5" r="0.61" fill="#b8bcc4" opacity="0.34"/><circle cx="363.1" cy="299.8" r="0.66" fill="#b8bcc4" opacity="0.52"/><circle cx="345.3" cy="314.6" r="0.89" fill="#b8bcc4" opacity="0.48"/><circle cx="336.9" cy="291.3" r="0.71" fill="#b8bcc4" opacity="0.33"/><circle cx="308.5" cy="287.1" r="0.66" fill="#b8bcc4" opacity="0.20"/><circle cx="325.4" cy="327.8" r="0.63" fill="#b8bcc4" opacity="0.25"/><circle cx="335.3" cy="311.4" r="0.79" fill="#b8bcc4" opacity="0.36"/><circle cx="364.8" cy="346.6" r="0.77" fill="#b8bcc4" opacity="0.25"/><circle cx="302.1" cy="342.6" r="0.79" fill="#b8bcc4" opacity="0.40"/><circle cx="319.5" cy="301.6" r="0.74" fill="#b8bcc4" opacity="0.38"/><circle cx="336.0" cy="325.5" r="0.78" fill="#b8bcc4" opacity="0.23"/><circle cx="311.7" cy="348.4" r="0.86" fill="#b8bcc4" opacity="0.50"/><circle cx="296.8" cy="287.7" r="0.54" fill="#b8bcc4" opacity="0.32"/><circle cx="338.3" cy="290.5" r="0.67" fill="#b8bcc4" opacity="0.18"/><circle cx="300.1" cy="328.3" r="0.68" fill="#b8bcc4" opacity="0.40"/><circle cx="320.5" cy="315.3" r="0.51" fill="#b8bcc4" opacity="0.29"/><circle cx="346.9" cy="339.0" r="0.44" fill="#b8bcc4" opacity="0.20"/><circle cx="351.5" cy="324.9" r="0.78" fill="#b8bcc4" opacity="0.24"/><circle cx="324.1" cy="300.7" r="0.80" fill="#b8bcc4" opacity="0.30"/><circle cx="340.4" cy="349.0" r="0.56" fill="#b8bcc4" opacity="0.37"/><circle cx="347.0" cy="344.5" r="0.61" fill="#b8bcc4" opacity="0.30"/><circle cx="300.9" cy="341.5" r="0.44" fill="#b8bcc4" opacity="0.18"/><circle cx="334.1" cy="315.7" r="0.74" fill="#b8bcc4" opacity="0.27"/><circle cx="349.1" cy="288.7" r="0.51" fill="#b8bcc4" opacity="0.41"/><circle cx="299.8" cy="303.8" r="0.76" fill="#b8bcc4" opacity="0.43"/><circle cx="314.1" cy="293.1" r="0.58" fill="#b8bcc4" opacity="0.44"/><circle cx="320.0" cy="291.4" r="0.75" fill="#b8bcc4" opacity="0.38"/><circle cx="359.2" cy="345.7" r="0.86" fill="#b8bcc4" opacity="0.33"/><circle cx="351.0" cy="303.8" r="0.56" fill="#b8bcc4" opacity="0.31"/><circle cx="360.4" cy="342.8" r="0.52" fill="#b8bcc4" opacity="0.29"/><circle cx="320.0" cy="307.7" r="0.60" fill="#b8bcc4" opacity="0.31"/><circle cx="307.8" cy="320.9" r="0.80" fill="#b8bcc4" opacity="0.37"/><circle cx="353.4" cy="320.8" r="0.49" fill="#b8bcc4" opacity="0.45"/><circle cx="356.5" cy="302.3" r="0.41" fill="#b8bcc4" opacity="0.36"/><circle cx="332.6" cy="321.2" r="0.88" fill="#b8bcc4" opacity="0.41"/><circle cx="351.1" cy="287.9" r="0.67" fill="#b8bcc4" opacity="0.47"/><circle cx="300.0" cy="289.1" r="0.77" fill="#b8bcc4" opacity="0.51"/><circle cx="300.0" cy="325.6" r="0.47" fill="#b8bcc4" opacity="0.45"/><circle cx="340.1" cy="299.9" r="0.51" fill="#b8bcc4" opacity="0.46"/><circle cx="331.0" cy="334.2" r="0.60" fill="#b8bcc4" opacity="0.29"/><circle cx="362.7" cy="328.1" r="0.65" fill="#b8bcc4" opacity="0.36"/><circle cx="345.2" cy="330.4" r="0.86" fill="#b8bcc4" opacity="0.31"/><circle cx="352.7" cy="327.7" r="0.83" fill="#b8bcc4" opacity="0.47"/><circle cx="353.2" cy="342.4" r="0.88" fill="#b8bcc4" opacity="0.41"/><circle cx="331.2" cy="330.6" r="0.80" fill="#b8bcc4" opacity="0.32"/><circle cx="323.9" cy="293.3" r="0.77" fill="#b8bcc4" opacity="0.55"/><circle cx="320.7" cy="294.8" r="0.50" fill="#b8bcc4" opacity="0.32"/><circle cx="314.7" cy="347.7" r="0.43" fill="#b8bcc4" opacity="0.27"/><circle cx="302.2" cy="326.5" r="0.79" fill="#b8bcc4" opacity="0.22"/><circle cx="298.4" cy="314.0" r="0.69" fill="#b8bcc4" opacity="0.51"/><circle cx="296.6" cy="290.9" r="0.49" fill="#b8bcc4" opacity="0.24"/><circle cx="310.7" cy="331.0" r="0.70" fill="#b8bcc4" opacity="0.24"/><circle cx="307.1" cy="302.3" r="0.49" fill="#b8bcc4" opacity="0.45"/><circle cx="316.1" cy="319.9" r="0.81" fill="#b8bcc4" opacity="0.34"/><circle cx="312.5" cy="342.3" r="0.86" fill="#b8bcc4" opacity="0.29"/><circle cx="332.9" cy="346.9" r="0.64" fill="#b8bcc4" opacity="0.24"/><circle cx="297.5" cy="346.2" r="0.80" fill="#b8bcc4" opacity="0.30"/><circle cx="331.5" cy="317.7" r="0.54" fill="#b8bcc4" opacity="0.55"/><circle cx="340.7" cy="299.4" r="0.41" fill="#b8bcc4" opacity="0.34"/><circle cx="320.4" cy="336.3" r="0.76" fill="#b8bcc4" opacity="0.39"/><circle cx="305.2" cy="294.1" r="0.56" fill="#b8bcc4" opacity="0.25"/><circle cx="355.7" cy="317.8" r="0.72" fill="#b8bcc4" opacity="0.55"/><circle cx="312.9" cy="319.0" r="0.48" fill="#b8bcc4" opacity="0.46"/><circle cx="294.1" cy="337.9" r="0.82" fill="#b8bcc4" opacity="0.48"/><circle cx="299.9" cy="301.5" r="0.76" fill="#b8bcc4" opacity="0.19"/><circle cx="328.1" cy="314.6" r="0.88" fill="#b8bcc4" opacity="0.38"/><circle cx="354.9" cy="303.7" r="0.79" fill="#b8bcc4" opacity="0.32"/><circle cx="359.1" cy="289.7" r="0.81" fill="#b8bcc4" opacity="0.23"/><circle cx="332.6" cy="318.4" r="0.48" fill="#b8bcc4" opacity="0.48"/><circle cx="316.1" cy="304.2" r="0.44" fill="#b8bcc4" opacity="0.27"/><circle cx="327.2" cy="330.9" r="0.58" fill="#b8bcc4" opacity="0.42"/><circle cx="301.5" cy="309.7" r="0.63" fill="#b8bcc4" opacity="0.54"/><circle cx="352.9" cy="326.9" r="0.41" fill="#b8bcc4" opacity="0.30"/><circle cx="344.4" cy="299.4" r="0.68" fill="#b8bcc4" opacity="0.33"/><circle cx="294.7" cy="349.1" r="0.80" fill="#b8bcc4" opacity="0.23"/><circle cx="337.7" cy="302.9" r="0.59" fill="#b8bcc4" opacity="0.37"/><circle cx="315.2" cy="306.0" r="0.60" fill="#b8bcc4" opacity="0.42"/><circle cx="312.2" cy="296.9" r="0.77" fill="#b8bcc4" opacity="0.28"/><circle cx="361.1" cy="320.8" r="0.76" fill="#b8bcc4" opacity="0.28"/><circle cx="352.7" cy="289.8" r="0.47" fill="#b8bcc4" opacity="0.19"/><circle cx="342.1" cy="330.4" r="0.49" fill="#b8bcc4" opacity="0.31"/><circle cx="353.4" cy="322.8" r="0.45" fill="#b8bcc4" opacity="0.24"/><circle cx="305.2" cy="291.9" r="0.60" fill="#b8bcc4" opacity="0.18"/><circle cx="359.4" cy="311.9" r="0.66" fill="#b8bcc4" opacity="0.41"/><circle cx="348.4" cy="337.9" r="0.59" fill="#b8bcc4" opacity="0.28"/><circle cx="323.3" cy="284.7" r="0.60" fill="#b8bcc4" opacity="0.43"/><circle cx="363.7" cy="335.8" r="0.73" fill="#b8bcc4" opacity="0.39"/><circle cx="295.3" cy="305.5" r="0.57" fill="#b8bcc4" opacity="0.41"/><circle cx="301.5" cy="308.6" r="0.65" fill="#b8bcc4" opacity="0.47"/><circle cx="352.6" cy="324.1" r="0.48" fill="#b8bcc4" opacity="0.46"/><circle cx="358.1" cy="319.9" r="0.58" fill="#b8bcc4" opacity="0.35"/><circle cx="304.1" cy="330.8" r="0.89" fill="#b8bcc4" opacity="0.36"/><circle cx="344.8" cy="338.8" r="0.50" fill="#b8bcc4" opacity="0.53"/><circle cx="338.5" cy="296.8" r="0.44" fill="#b8bcc4" opacity="0.25"/><circle cx="334.9" cy="329.7" r="0.56" fill="#b8bcc4" opacity="0.52"/><circle cx="319.6" cy="314.3" r="0.46" fill="#b8bcc4" opacity="0.54"/><circle cx="303.6" cy="343.4" r="0.67" fill="#b8bcc4" opacity="0.37"/><circle cx="333.8" cy="301.1" r="0.85" fill="#b8bcc4" opacity="0.55"/><circle cx="352.0" cy="323.4" r="0.46" fill="#b8bcc4" opacity="0.48"/><circle cx="314.5" cy="342.9" r="0.52" fill="#b8bcc4" opacity="0.38"/><circle cx="353.0" cy="295.9" r="0.67" fill="#b8bcc4" opacity="0.18"/><circle cx="296.3" cy="295.6" r="0.89" fill="#b8bcc4" opacity="0.53"/><circle cx="340.7" cy="304.0" r="0.74" fill="#b8bcc4" opacity="0.45"/><circle cx="321.1" cy="322.8" r="0.80" fill="#b8bcc4" opacity="0.16"/><circle cx="308.2" cy="314.6" r="0.47" fill="#b8bcc4" opacity="0.30"/><circle cx="334.4" cy="295.2" r="0.66" fill="#b8bcc4" opacity="0.26"/><circle cx="334.3" cy="305.6" r="0.72" fill="#b8bcc4" opacity="0.17"/><circle cx="341.6" cy="293.3" r="0.88" fill="#b8bcc4" opacity="0.39"/><circle cx="327.4" cy="310.9" r="0.71" fill="#b8bcc4" opacity="0.43"/><circle cx="347.8" cy="333.3" r="0.64" fill="#b8bcc4" opacity="0.55"/><circle cx="353.5" cy="340.1" r="0.60" fill="#b8bcc4" opacity="0.32"/><circle cx="334.2" cy="343.4" r="0.66" fill="#b8bcc4" opacity="0.36"/><circle cx="324.7" cy="343.4" r="0.56" fill="#b8bcc4" opacity="0.17"/><circle cx="345.5" cy="343.1" r="0.77" fill="#b8bcc4" opacity="0.39"/><circle cx="347.4" cy="303.8" r="0.70" fill="#b8bcc4" opacity="0.18"/><circle cx="302.8" cy="313.2" r="0.65" fill="#b8bcc4" opacity="0.31"/><circle cx="297.7" cy="329.6" r="0.66" fill="#b8bcc4" opacity="0.25"/><circle cx="315.7" cy="309.8" r="0.52" fill="#b8bcc4" opacity="0.18"/><circle cx="358.7" cy="347.5" r="0.73" fill="#b8bcc4" opacity="0.50"/><circle cx="327.4" cy="303.1" r="0.57" fill="#e6e6ea" opacity="0.80"/><circle cx="325.2" cy="292.7" r="0.50" fill="#e6e6ea" opacity="0.83"/><circle cx="342.3" cy="303.2" r="0.97" fill="#e6e6ea" opacity="0.35"/><circle cx="337.2" cy="303.1" r="0.63" fill="#e6e6ea" opacity="0.39"/><circle cx="345.7" cy="291.2" r="0.67" fill="#e6e6ea" opacity="0.56"/><circle cx="335.4" cy="297.1" r="0.47" fill="#e6e6ea" opacity="0.89"/><circle cx="334.5" cy="304.6" r="0.96" fill="#e6e6ea" opacity="0.94"/><circle cx="333.0" cy="298.7" r="0.61" fill="#e6e6ea" opacity="0.90"/><circle cx="340.2" cy="295.6" r="0.91" fill="#e6e6ea" opacity="0.56"/><circle cx="333.4" cy="298.6" r="0.93" fill="#e6e6ea" opacity="0.95"/><circle cx="339.5" cy="306.1" r="0.56" fill="#e6e6ea" opacity="0.88"/><circle cx="339.7" cy="298.9" r="0.85" fill="#e6e6ea" opacity="0.54"/><circle cx="346.8" cy="290.9" r="0.84" fill="#e6e6ea" opacity="0.43"/><circle cx="332.3" cy="284.7" r="0.69" fill="#e6e6ea" opacity="0.40"/><circle cx="337.9" cy="303.1" r="0.84" fill="#e6e6ea" opacity="0.47"/><circle cx="338.8" cy="302.0" r="0.82" fill="#e6e6ea" opacity="0.82"/><circle cx="330.8" cy="304.3" r="0.94" fill="#e6e6ea" opacity="0.70"/><circle cx="337.7" cy="303.0" r="0.96" fill="#e6e6ea" opacity="0.75"/><circle cx="335.6" cy="306.5" r="0.50" fill="#e6e6ea" opacity="0.94"/><circle cx="330.2" cy="300.7" r="0.74" fill="#e6e6ea" opacity="0.38"/><circle cx="333.0" cy="295.1" r="0.59" fill="#e6e6ea" opacity="0.83"/><circle cx="341.2" cy="300.6" r="0.87" fill="#e6e6ea" opacity="0.50"/><circle cx="335.6" cy="305.4" r="0.55" fill="#e6e6ea" opacity="0.89"/><circle cx="338.6" cy="297.9" r="0.70" fill="#e6e6ea" opacity="0.80"/><circle cx="326.7" cy="307.2" r="0.72" fill="#e6e6ea" opacity="0.46"/><circle cx="328.9" cy="295.0" r="0.65" fill="#e6e6ea" opacity="0.74"/><circle cx="338.5" cy="290.9" r="0.73" fill="#e6e6ea" opacity="0.86"/><circle cx="334.1" cy="291.3" r="0.97" fill="#e6e6ea" opacity="0.45"/><circle cx="337.7" cy="294.5" r="0.78" fill="#e6e6ea" opacity="0.49"/><circle cx="327.4" cy="301.8" r="0.88" fill="#e6e6ea" opacity="0.82"/><circle cx="337.6" cy="304.9" r="0.57" fill="#e6e6ea" opacity="0.70"/><circle cx="335.4" cy="298.0" r="0.78" fill="#e6e6ea" opacity="0.78"/><circle cx="326.1" cy="292.6" r="0.55" fill="#e6e6ea" opacity="0.44"/><circle cx="344.0" cy="298.8" r="0.69" fill="#e6e6ea" opacity="0.62"/><circle cx="336.1" cy="308.7" r="0.49" fill="#e6e6ea" opacity="0.89"/><circle cx="330.2" cy="294.8" r="0.89" fill="#e6e6ea" opacity="0.49"/><circle cx="340.1" cy="302.1" r="0.47" fill="#e6e6ea" opacity="0.54"/><circle cx="331.7" cy="292.9" r="0.60" fill="#e6e6ea" opacity="0.70"/><circle cx="346.4" cy="303.9" r="0.54" fill="#e6e6ea" opacity="0.50"/><circle cx="341.9" cy="305.8" r="0.91" fill="#e6e6ea" opacity="0.82"/><circle cx="342.7" cy="300.3" r="0.65" fill="#e6e6ea" opacity="0.48"/><circle cx="338.7" cy="297.7" r="0.72" fill="#e6e6ea" opacity="0.81"/><circle cx="340.3" cy="297.7" r="0.70" fill="#e6e6ea" opacity="0.80"/><circle cx="341.3" cy="299.1" r="0.94" fill="#e6e6ea" opacity="0.43"/><circle cx="333.1" cy="301.1" r="0.68" fill="#e6e6ea" opacity="0.40"/><circle cx="356.5" cy="302.3" r="0.87" fill="#e6e6ea" opacity="0.79"/><circle cx="337.6" cy="302.5" r="0.75" fill="#e6e6ea" opacity="0.50"/><circle cx="323.5" cy="301.3" r="0.65" fill="#e6e6ea" opacity="0.55"/><circle cx="345.2" cy="297.0" r="0.47" fill="#e6e6ea" opacity="0.59"/><circle cx="335.8" cy="296.3" r="0.64" fill="#e6e6ea" opacity="0.77"/><circle cx="342.3" cy="292.0" r="0.94" fill="#e6e6ea" opacity="0.63"/><circle cx="328.0" cy="305.2" r="0.66" fill="#e6e6ea" opacity="0.82"/><circle cx="338.2" cy="303.4" r="0.55" fill="#e6e6ea" opacity="0.68"/><circle cx="339.1" cy="301.5" r="0.57" fill="#e6e6ea" opacity="0.63"/><circle cx="334.7" cy="304.1" r="1.00" fill="#e6e6ea" opacity="0.76"/><circle cx="339.6" cy="294.9" r="0.66" fill="#e6e6ea" opacity="0.39"/><circle cx="334.9" cy="292.7" r="0.60" fill="#e6e6ea" opacity="0.36"/><circle cx="338.9" cy="302.3" r="0.67" fill="#e6e6ea" opacity="0.90"/><circle cx="336.0" cy="293.4" r="0.65" fill="#e6e6ea" opacity="0.44"/><circle cx="342.2" cy="295.8" r="0.87" fill="#e6e6ea" opacity="0.78"/><circle cx="338.0" cy="297.3" r="0.63" fill="#e6e6ea" opacity="0.58"/><circle cx="347.8" cy="304.2" r="0.63" fill="#e6e6ea" opacity="0.81"/><circle cx="335.0" cy="297.8" r="0.67" fill="#e6e6ea" opacity="0.49"/><circle cx="340.3" cy="298.9" r="0.78" fill="#e6e6ea" opacity="0.37"/><circle cx="334.6" cy="303.8" r="0.75" fill="#e6e6ea" opacity="0.43"/><circle cx="335.7" cy="293.5" r="0.85" fill="#e6e6ea" opacity="0.75"/><circle cx="339.4" cy="301.2" r="0.60" fill="#e6e6ea" opacity="0.78"/><circle cx="332.1" cy="301.3" r="0.93" fill="#e6e6ea" opacity="0.49"/><circle cx="335.6" cy="303.3" r="0.57" fill="#e6e6ea" opacity="0.37"/><circle cx="345.4" cy="299.3" r="0.76" fill="#e6e6ea" opacity="0.84"/><circle cx="342.0" cy="297.2" r="0.82" fill="#e6e6ea" opacity="0.90"/><circle cx="338.9" cy="307.0" r="0.82" fill="#e6e6ea" opacity="0.92"/><circle cx="340.0" cy="294.8" r="0.80" fill="#e6e6ea" opacity="0.40"/><circle cx="331.6" cy="300.6" r="0.48" fill="#e6e6ea" opacity="0.58"/><circle cx="333.7" cy="304.2" r="0.60" fill="#e6e6ea" opacity="0.45"/><circle cx="331.4" cy="301.9" r="0.54" fill="#e6e6ea" opacity="0.75"/><circle cx="337.2" cy="300.6" r="0.64" fill="#e6e6ea" opacity="0.60"/><circle cx="341.6" cy="304.4" r="0.84" fill="#e6e6ea" opacity="0.68"/><circle cx="336.6" cy="296.8" r="0.67" fill="#e6e6ea" opacity="0.57"/><circle cx="342.6" cy="300.4" r="0.48" fill="#e6e6ea" opacity="0.65"/><circle cx="331.2" cy="294.5" r="0.63" fill="#e6e6ea" opacity="0.50"/><circle cx="342.5" cy="298.8" r="0.94" fill="#e6e6ea" opacity="0.69"/><circle cx="336.3" cy="306.9" r="0.55" fill="#e6e6ea" opacity="0.63"/><circle cx="325.8" cy="288.1" r="0.65" fill="#e6e6ea" opacity="0.70"/><circle cx="346.6" cy="294.3" r="0.80" fill="#e6e6ea" opacity="0.72"/><circle cx="331.7" cy="301.3" r="0.60" fill="#e6e6ea" opacity="0.85"/><circle cx="341.3" cy="294.0" r="0.95" fill="#e6e6ea" opacity="0.37"/><circle cx="341.7" cy="303.4" r="0.62" fill="#e6e6ea" opacity="0.57"/><circle cx="340.4" cy="297.5" r="0.56" fill="#e6e6ea" opacity="0.49"/><circle cx="335.1" cy="294.0" r="0.45" fill="#e6e6ea" opacity="0.68"/><circle cx="302.3" cy="303.4" r="0.72" fill="#e6e6ea" opacity="0.74"/><circle cx="300.0" cy="300.7" r="0.76" fill="#e6e6ea" opacity="0.85"/><circle cx="306.7" cy="301.5" r="0.64" fill="#e6e6ea" opacity="0.88"/><circle cx="302.2" cy="306.4" r="0.83" fill="#e6e6ea" opacity="0.76"/><circle cx="309.5" cy="300.7" r="0.54" fill="#e6e6ea" opacity="0.72"/><circle cx="300.1" cy="302.2" r="0.65" fill="#e6e6ea" opacity="0.52"/><circle cx="304.0" cy="298.3" r="0.58" fill="#e6e6ea" opacity="0.50"/><circle cx="303.1" cy="303.7" r="0.73" fill="#e6e6ea" opacity="0.43"/><circle cx="305.0" cy="302.4" r="0.51" fill="#e6e6ea" opacity="0.77"/><circle cx="306.5" cy="304.1" r="0.87" fill="#e6e6ea" opacity="0.64"/><circle cx="307.1" cy="307.1" r="0.93" fill="#e6e6ea" opacity="0.38"/><circle cx="303.9" cy="305.6" r="0.89" fill="#e6e6ea" opacity="0.59"/><circle cx="303.5" cy="299.8" r="0.84" fill="#e6e6ea" opacity="0.55"/><circle cx="301.5" cy="306.4" r="0.91" fill="#e6e6ea" opacity="0.85"/><circle cx="301.1" cy="300.7" r="0.84" fill="#e6e6ea" opacity="0.72"/><circle cx="306.6" cy="297.3" r="0.52" fill="#e6e6ea" opacity="0.58"/><circle cx="302.9" cy="300.1" r="0.55" fill="#e6e6ea" opacity="0.36"/><circle cx="297.9" cy="298.3" r="0.98" fill="#e6e6ea" opacity="0.43"/><circle cx="302.8" cy="299.1" r="0.80" fill="#e6e6ea" opacity="0.59"/><circle cx="312.2" cy="298.3" r="0.48" fill="#e6e6ea" opacity="0.78"/><circle cx="304.6" cy="302.6" r="0.61" fill="#e6e6ea" opacity="0.79"/><circle cx="305.5" cy="301.9" r="0.63" fill="#e6e6ea" opacity="0.37"/><circle cx="300.7" cy="301.1" r="0.66" fill="#e6e6ea" opacity="0.54"/><circle cx="305.8" cy="296.6" r="0.61" fill="#e6e6ea" opacity="0.59"/><circle cx="300.2" cy="298.6" r="0.99" fill="#e6e6ea" opacity="0.58"/><circle cx="302.7" cy="298.5" r="0.89" fill="#e6e6ea" opacity="0.44"/><circle cx="304.6" cy="303.3" r="0.96" fill="#e6e6ea" opacity="0.50"/><circle cx="302.5" cy="302.1" r="0.63" fill="#e6e6ea" opacity="0.36"/><circle cx="302.5" cy="301.3" r="0.79" fill="#e6e6ea" opacity="0.51"/><circle cx="304.5" cy="305.4" r="0.65" fill="#e6e6ea" opacity="0.51"/><circle cx="314.4" cy="320.5" r="0.94" fill="#e6e6ea" opacity="0.54"/><circle cx="315.2" cy="321.2" r="0.72" fill="#e6e6ea" opacity="0.95"/><circle cx="315.4" cy="327.7" r="0.72" fill="#e6e6ea" opacity="0.60"/><circle cx="314.4" cy="316.2" r="0.48" fill="#e6e6ea" opacity="0.68"/><circle cx="309.9" cy="315.3" r="0.60" fill="#e6e6ea" opacity="0.91"/><circle cx="321.5" cy="310.3" r="0.69" fill="#e6e6ea" opacity="0.85"/><circle cx="312.6" cy="317.5" r="0.46" fill="#e6e6ea" opacity="0.45"/><circle cx="314.2" cy="321.1" r="0.65" fill="#e6e6ea" opacity="0.80"/><circle cx="311.2" cy="324.5" r="0.46" fill="#e6e6ea" opacity="0.48"/><circle cx="313.6" cy="319.8" r="0.74" fill="#e6e6ea" opacity="0.84"/><circle cx="314.7" cy="313.7" r="0.67" fill="#e6e6ea" opacity="0.83"/><circle cx="316.2" cy="314.0" r="0.99" fill="#e6e6ea" opacity="0.41"/><circle cx="316.9" cy="318.8" r="0.84" fill="#e6e6ea" opacity="0.50"/><circle cx="313.7" cy="319.5" r="0.77" fill="#e6e6ea" opacity="0.49"/><circle cx="310.1" cy="322.5" r="0.81" fill="#e6e6ea" opacity="0.84"/><circle cx="309.2" cy="324.3" r="0.64" fill="#e6e6ea" opacity="0.52"/><circle cx="315.9" cy="318.0" r="0.50" fill="#e6e6ea" opacity="0.55"/><circle cx="312.9" cy="317.2" r="0.86" fill="#e6e6ea" opacity="0.68"/><circle cx="311.9" cy="317.7" r="0.51" fill="#e6e6ea" opacity="0.44"/><circle cx="310.5" cy="323.4" r="0.46" fill="#e6e6ea" opacity="0.65"/><circle cx="310.1" cy="322.0" r="0.75" fill="#e6e6ea" opacity="0.92"/><circle cx="315.3" cy="327.9" r="0.63" fill="#e6e6ea" opacity="0.80"/><circle cx="322.2" cy="327.5" r="0.69" fill="#e6e6ea" opacity="0.93"/><circle cx="313.8" cy="324.0" r="0.84" fill="#e6e6ea" opacity="0.46"/><circle cx="312.1" cy="326.0" r="0.97" fill="#e6e6ea" opacity="0.54"/><circle cx="314.5" cy="323.4" r="0.99" fill="#e6e6ea" opacity="0.44"/><circle cx="310.4" cy="317.1" r="0.80" fill="#e6e6ea" opacity="0.48"/><circle cx="306.8" cy="314.4" r="0.92" fill="#e6e6ea" opacity="0.73"/><circle cx="307.8" cy="319.8" r="0.51" fill="#e6e6ea" opacity="0.85"/><circle cx="311.4" cy="315.9" r="0.82" fill="#e6e6ea" opacity="0.60"/><circle cx="310.8" cy="321.9" r="0.78" fill="#e6e6ea" opacity="0.69"/><circle cx="312.0" cy="319.9" r="0.80" fill="#e6e6ea" opacity="0.62"/><circle cx="308.5" cy="317.0" r="0.96" fill="#e6e6ea" opacity="0.44"/><circle cx="300.7" cy="322.5" r="0.86" fill="#e6e6ea" opacity="0.54"/><circle cx="312.0" cy="308.0" r="0.67" fill="#e6e6ea" opacity="0.87"/><circle cx="321.5" cy="328.7" r="0.72" fill="#e6e6ea" opacity="0.49"/><circle cx="316.1" cy="315.1" r="0.97" fill="#e6e6ea" opacity="0.85"/><circle cx="314.4" cy="315.4" r="1.00" fill="#e6e6ea" opacity="0.39"/><circle cx="317.3" cy="315.4" r="0.59" fill="#e6e6ea" opacity="0.83"/><circle cx="308.2" cy="321.4" r="0.93" fill="#e6e6ea" opacity="0.47"/><circle cx="311.9" cy="325.6" r="0.49" fill="#e6e6ea" opacity="0.68"/><circle cx="314.1" cy="315.5" r="0.58" fill="#e6e6ea" opacity="0.83"/><circle cx="317.2" cy="314.6" r="0.75" fill="#e6e6ea" opacity="0.89"/><circle cx="313.7" cy="317.8" r="0.65" fill="#e6e6ea" opacity="0.41"/><circle cx="316.6" cy="320.8" r="0.93" fill="#e6e6ea" opacity="0.85"/><circle cx="314.9" cy="321.7" r="0.66" fill="#e6e6ea" opacity="0.86"/><circle cx="306.6" cy="314.2" r="0.49" fill="#e6e6ea" opacity="0.94"/><circle cx="314.5" cy="325.4" r="0.93" fill="#e6e6ea" opacity="0.79"/><circle cx="314.9" cy="325.6" r="0.69" fill="#e6e6ea" opacity="0.36"/><circle cx="311.1" cy="322.9" r="0.80" fill="#e6e6ea" opacity="0.52"/><circle cx="308.1" cy="316.3" r="0.55" fill="#e6e6ea" opacity="0.43"/><circle cx="311.4" cy="315.8" r="0.52" fill="#e6e6ea" opacity="0.42"/><circle cx="318.1" cy="318.0" r="0.65" fill="#e6e6ea" opacity="0.47"/><circle cx="319.1" cy="319.8" r="0.85" fill="#e6e6ea" opacity="0.57"/><circle cx="311.5" cy="323.8" r="0.53" fill="#e6e6ea" opacity="0.73"/><circle cx="324.4" cy="328.5" r="0.67" fill="#e6e6ea" opacity="0.62"/><circle cx="321.5" cy="325.7" r="0.64" fill="#e6e6ea" opacity="0.77"/><circle cx="331.5" cy="329.9" r="0.61" fill="#e6e6ea" opacity="0.87"/><circle cx="329.2" cy="331.7" r="0.82" fill="#e6e6ea" opacity="0.62"/><circle cx="334.6" cy="324.8" r="0.86" fill="#e6e6ea" opacity="0.71"/><circle cx="329.6" cy="326.3" r="0.68" fill="#e6e6ea" opacity="0.52"/><circle cx="321.7" cy="328.7" r="0.61" fill="#e6e6ea" opacity="0.77"/><circle cx="329.6" cy="324.0" r="0.68" fill="#e6e6ea" opacity="0.43"/><circle cx="333.4" cy="324.6" r="0.68" fill="#e6e6ea" opacity="0.55"/><circle cx="334.3" cy="320.7" r="0.77" fill="#e6e6ea" opacity="0.68"/><circle cx="337.9" cy="329.7" r="0.50" fill="#e6e6ea" opacity="0.57"/><circle cx="326.5" cy="329.4" r="0.82" fill="#e6e6ea" opacity="0.56"/><circle cx="338.8" cy="321.6" r="0.46" fill="#e6e6ea" opacity="0.73"/><circle cx="327.3" cy="326.5" r="0.71" fill="#e6e6ea" opacity="0.54"/><circle cx="328.4" cy="322.4" r="0.98" fill="#e6e6ea" opacity="0.94"/><circle cx="335.0" cy="325.9" r="0.91" fill="#e6e6ea" opacity="0.74"/><circle cx="326.8" cy="316.1" r="0.49" fill="#e6e6ea" opacity="0.63"/><circle cx="326.2" cy="328.5" r="0.57" fill="#e6e6ea" opacity="0.94"/><circle cx="332.0" cy="328.8" r="0.53" fill="#e6e6ea" opacity="0.59"/><circle cx="330.9" cy="324.7" r="0.54" fill="#e6e6ea" opacity="0.74"/><circle cx="326.3" cy="322.6" r="0.59" fill="#e6e6ea" opacity="0.84"/><circle cx="330.2" cy="320.8" r="0.52" fill="#e6e6ea" opacity="0.63"/><circle cx="338.9" cy="326.6" r="0.97" fill="#e6e6ea" opacity="0.89"/><circle cx="334.7" cy="326.4" r="0.74" fill="#e6e6ea" opacity="0.67"/><circle cx="336.4" cy="329.4" r="0.62" fill="#e6e6ea" opacity="0.65"/><circle cx="334.7" cy="328.7" r="0.52" fill="#e6e6ea" opacity="0.40"/><circle cx="327.7" cy="325.8" r="0.88" fill="#e6e6ea" opacity="0.50"/><circle cx="329.9" cy="326.5" r="0.57" fill="#e6e6ea" opacity="0.62"/><circle cx="326.9" cy="324.8" r="0.92" fill="#e6e6ea" opacity="0.41"/><circle cx="332.4" cy="324.6" r="0.98" fill="#e6e6ea" opacity="0.66"/><circle cx="326.4" cy="328.3" r="0.93" fill="#e6e6ea" opacity="0.93"/><circle cx="330.5" cy="326.2" r="0.53" fill="#e6e6ea" opacity="0.84"/><circle cx="330.4" cy="321.3" r="0.54" fill="#e6e6ea" opacity="0.67"/><circle cx="332.9" cy="326.3" r="0.62" fill="#e6e6ea" opacity="0.93"/><circle cx="326.2" cy="321.4" r="0.48" fill="#e6e6ea" opacity="0.60"/><circle cx="333.7" cy="327.1" r="0.51" fill="#e6e6ea" opacity="0.90"/><circle cx="328.8" cy="329.1" r="0.81" fill="#e6e6ea" opacity="0.88"/><circle cx="335.9" cy="324.7" r="0.73" fill="#e6e6ea" opacity="0.89"/><circle cx="328.3" cy="327.6" r="0.86" fill="#e6e6ea" opacity="0.50"/><circle cx="328.1" cy="328.3" r="0.71" fill="#e6e6ea" opacity="0.57"/><circle cx="347.0" cy="314.8" r="0.48" fill="#e6e6ea" opacity="0.85"/><circle cx="357.7" cy="314.8" r="0.75" fill="#e6e6ea" opacity="0.59"/><circle cx="352.4" cy="314.7" r="0.65" fill="#e6e6ea" opacity="0.54"/><circle cx="348.4" cy="312.4" r="0.86" fill="#e6e6ea" opacity="0.64"/><circle cx="357.1" cy="312.3" r="0.98" fill="#e6e6ea" opacity="0.35"/><circle cx="341.4" cy="303.5" r="0.65" fill="#e6e6ea" opacity="0.71"/><circle cx="349.1" cy="315.7" r="0.79" fill="#e6e6ea" opacity="0.70"/><circle cx="349.7" cy="318.5" r="0.73" fill="#e6e6ea" opacity="0.80"/><circle cx="354.1" cy="312.9" r="0.59" fill="#e6e6ea" opacity="0.51"/><circle cx="353.5" cy="305.9" r="0.92" fill="#e6e6ea" opacity="0.59"/><circle cx="350.3" cy="320.8" r="0.50" fill="#e6e6ea" opacity="0.94"/><circle cx="354.2" cy="307.3" r="0.62" fill="#e6e6ea" opacity="0.84"/><circle cx="353.7" cy="303.6" r="0.48" fill="#e6e6ea" opacity="0.81"/><circle cx="358.7" cy="314.5" r="0.75" fill="#e6e6ea" opacity="0.91"/><circle cx="351.3" cy="311.0" r="0.96" fill="#e6e6ea" opacity="0.80"/><circle cx="351.5" cy="311.7" r="0.86" fill="#e6e6ea" opacity="0.60"/><circle cx="345.9" cy="296.4" r="0.95" fill="#e6e6ea" opacity="0.39"/><circle cx="353.1" cy="305.7" r="0.86" fill="#e6e6ea" opacity="0.58"/><circle cx="346.9" cy="314.1" r="0.51" fill="#e6e6ea" opacity="0.54"/><circle cx="351.8" cy="309.7" r="0.51" fill="#e6e6ea" opacity="0.85"/><circle cx="348.8" cy="305.5" r="0.51" fill="#e6e6ea" opacity="0.42"/><circle cx="347.4" cy="325.8" r="0.76" fill="#e6e6ea" opacity="0.90"/><circle cx="353.3" cy="318.0" r="0.74" fill="#e6e6ea" opacity="0.85"/><circle cx="359.3" cy="320.5" r="0.71" fill="#e6e6ea" opacity="0.37"/><circle cx="347.6" cy="314.4" r="0.82" fill="#e6e6ea" opacity="0.91"/><circle cx="344.4" cy="312.4" r="0.66" fill="#e6e6ea" opacity="0.82"/><circle cx="358.5" cy="318.1" r="0.54" fill="#e6e6ea" opacity="0.70"/><circle cx="353.4" cy="317.3" r="0.54" fill="#e6e6ea" opacity="0.56"/><circle cx="346.9" cy="308.1" r="0.66" fill="#e6e6ea" opacity="0.69"/><circle cx="354.6" cy="307.3" r="0.77" fill="#e6e6ea" opacity="0.64"/></g></g>
<rect x="368.80" y="283.70" width="74.00" height="66.00" fill="#46494f" />
<g clip-path="url(#cBR)"><g filter="url(#blur3)"><ellipse cx="421" cy="326" rx="9" ry="8" fill="#9a9ca4" opacity="0.45"/><ellipse cx="389" cy="326" rx="6" ry="6" fill="#9a9ca4" opacity="0.4"/></g><g filter="url(#blur1)"><circle cx="403.9" cy="327.1" r="0.73" fill="#b8bcc4" opacity="0.21"/><circle cx="369.6" cy="308.4" r="0.54" fill="#b8bcc4" opacity="0.47"/><circle cx="419.9" cy="323.4" r="0.68" fill="#b8bcc4" opacity="0.41"/><circle cx="379.6" cy="312.7" r="0.48" fill="#b8bcc4" opacity="0.51"/><circle cx="373.2" cy="337.7" r="0.44" fill="#b8bcc4" opacity="0.42"/><circle cx="393.7" cy="310.4" r="0.82" fill="#b8bcc4" opacity="0.16"/><circle cx="373.3" cy="344.1" r="0.65" fill="#b8bcc4" opacity="0.19"/><circle cx="441.8" cy="346.2" r="0.46" fill="#b8bcc4" opacity="0.32"/><circle cx="378.8" cy="304.3" r="0.71" fill="#b8bcc4" opacity="0.22"/><circle cx="420.4" cy="287.1" r="0.49" fill="#b8bcc4" opacity="0.48"/><circle cx="398.4" cy="311.3" r="0.70" fill="#b8bcc4" opacity="0.34"/><circle cx="397.3" cy="285.7" r="0.76" fill="#b8bcc4" opacity="0.54"/><circle cx="441.0" cy="327.5" r="0.58" fill="#b8bcc4" opacity="0.30"/><circle cx="419.9" cy="328.2" r="0.46" fill="#b8bcc4" opacity="0.24"/><circle cx="395.7" cy="317.4" r="0.81" fill="#b8bcc4" opacity="0.35"/><circle cx="370.9" cy="338.0" r="0.62" fill="#b8bcc4" opacity="0.36"/><circle cx="385.2" cy="311.9" r="0.59" fill="#b8bcc4" opacity="0.46"/><circle cx="376.4" cy="320.0" r="0.49" fill="#b8bcc4" opacity="0.43"/><circle cx="371.5" cy="302.0" r="0.57" fill="#b8bcc4" opacity="0.40"/><circle cx="372.7" cy="314.0" r="0.50" fill="#b8bcc4" opacity="0.26"/><circle cx="404.0" cy="347.0" r="0.64" fill="#b8bcc4" opacity="0.53"/><circle cx="381.2" cy="344.7" r="0.58" fill="#b8bcc4" opacity="0.23"/><circle cx="424.2" cy="343.9" r="0.40" fill="#b8bcc4" opacity="0.26"/><circle cx="425.8" cy="306.3" r="0.52" fill="#b8bcc4" opacity="0.15"/><circle cx="371.8" cy="324.6" r="0.89" fill="#b8bcc4" opacity="0.55"/><circle cx="406.1" cy="285.3" r="0.56" fill="#b8bcc4" opacity="0.46"/><circle cx="430.4" cy="325.9" r="0.51" fill="#b8bcc4" opacity="0.36"/><circle cx="404.1" cy="325.1" r="0.53" fill="#b8bcc4" opacity="0.53"/><circle cx="435.0" cy="294.4" r="0.55" fill="#b8bcc4" opacity="0.50"/><circle cx="389.4" cy="346.0" r="0.66" fill="#b8bcc4" opacity="0.43"/><circle cx="420.9" cy="297.8" r="0.54" fill="#b8bcc4" opacity="0.25"/><circle cx="419.4" cy="329.5" r="0.47" fill="#b8bcc4" opacity="0.50"/><circle cx="399.9" cy="299.6" r="0.62" fill="#b8bcc4" opacity="0.54"/><circle cx="410.2" cy="324.9" r="0.86" fill="#b8bcc4" opacity="0.53"/><circle cx="425.1" cy="311.3" r="0.69" fill="#b8bcc4" opacity="0.51"/><circle cx="427.2" cy="322.0" r="0.57" fill="#b8bcc4" opacity="0.30"/><circle cx="423.3" cy="320.9" r="0.41" fill="#b8bcc4" opacity="0.43"/><circle cx="435.7" cy="336.4" r="0.85" fill="#b8bcc4" opacity="0.51"/><circle cx="408.4" cy="335.8" r="0.59" fill="#b8bcc4" opacity="0.19"/><circle cx="394.9" cy="304.3" r="0.87" fill="#b8bcc4" opacity="0.43"/><circle cx="408.9" cy="324.8" r="0.46" fill="#b8bcc4" opacity="0.36"/><circle cx="420.6" cy="309.7" r="0.52" fill="#b8bcc4" opacity="0.31"/><circle cx="392.7" cy="328.9" r="0.47" fill="#b8bcc4" opacity="0.19"/><circle cx="391.9" cy="329.6" r="0.78" fill="#b8bcc4" opacity="0.41"/><circle cx="438.0" cy="307.8" r="0.41" fill="#b8bcc4" opacity="0.35"/><circle cx="401.6" cy="295.5" r="0.73" fill="#b8bcc4" opacity="0.29"/><circle cx="386.4" cy="305.3" r="0.87" fill="#b8bcc4" opacity="0.15"/><circle cx="395.5" cy="302.2" r="0.50" fill="#b8bcc4" opacity="0.32"/><circle cx="385.1" cy="344.3" r="0.65" fill="#b8bcc4" opacity="0.43"/><circle cx="380.8" cy="314.4" r="0.70" fill="#b8bcc4" opacity="0.49"/><circle cx="387.3" cy="314.0" r="0.83" fill="#b8bcc4" opacity="0.48"/><circle cx="385.6" cy="319.2" r="0.78" fill="#b8bcc4" opacity="0.31"/><circle cx="418.6" cy="327.5" r="0.89" fill="#b8bcc4" opacity="0.37"/><circle cx="419.2" cy="306.8" r="0.77" fill="#b8bcc4" opacity="0.28"/><circle cx="405.8" cy="307.5" r="0.55" fill="#b8bcc4" opacity="0.20"/><circle cx="385.5" cy="319.6" r="0.53" fill="#b8bcc4" opacity="0.17"/><circle cx="428.3" cy="302.6" r="0.87" fill="#b8bcc4" opacity="0.39"/><circle cx="397.6" cy="341.3" r="0.85" fill="#b8bcc4" opacity="0.28"/><circle cx="378.1" cy="326.0" r="0.82" fill="#b8bcc4" opacity="0.39"/><circle cx="426.8" cy="310.9" r="0.71" fill="#b8bcc4" opacity="0.26"/><circle cx="398.9" cy="308.8" r="0.59" fill="#b8bcc4" opacity="0.31"/><circle cx="428.5" cy="294.9" r="0.50" fill="#b8bcc4" opacity="0.25"/><circle cx="440.7" cy="318.2" r="0.43" fill="#b8bcc4" opacity="0.48"/><circle cx="433.4" cy="337.9" r="0.58" fill="#b8bcc4" opacity="0.44"/><circle cx="391.4" cy="292.8" r="0.83" fill="#b8bcc4" opacity="0.48"/><circle cx="384.4" cy="341.8" r="0.41" fill="#b8bcc4" opacity="0.27"/><circle cx="369.8" cy="295.0" r="0.48" fill="#b8bcc4" opacity="0.44"/><circle cx="390.7" cy="296.2" r="0.49" fill="#b8bcc4" opacity="0.27"/><circle cx="432.6" cy="323.8" r="0.45" fill="#b8bcc4" opacity="0.42"/><circle cx="408.5" cy="313.3" r="0.66" fill="#b8bcc4" opacity="0.41"/><circle cx="428.1" cy="317.0" r="0.72" fill="#b8bcc4" opacity="0.34"/><circle cx="415.7" cy="309.3" r="0.61" fill="#b8bcc4" opacity="0.36"/><circle cx="421.7" cy="302.1" r="0.86" fill="#b8bcc4" opacity="0.35"/><circle cx="432.1" cy="329.3" r="0.88" fill="#b8bcc4" opacity="0.42"/><circle cx="400.4" cy="310.5" r="0.70" fill="#b8bcc4" opacity="0.45"/><circle cx="430.9" cy="292.2" r="0.43" fill="#b8bcc4" opacity="0.19"/><circle cx="375.0" cy="287.4" r="0.40" fill="#b8bcc4" opacity="0.25"/><circle cx="377.2" cy="328.9" r="0.71" fill="#b8bcc4" opacity="0.54"/><circle cx="439.9" cy="333.0" r="0.87" fill="#b8bcc4" opacity="0.16"/><circle cx="385.7" cy="344.8" r="0.64" fill="#b8bcc4" opacity="0.23"/><circle cx="424.8" cy="311.7" r="0.67" fill="#b8bcc4" opacity="0.28"/><circle cx="386.7" cy="289.5" r="0.70" fill="#b8bcc4" opacity="0.53"/><circle cx="441.8" cy="334.2" r="0.87" fill="#b8bcc4" opacity="0.29"/><circle cx="390.9" cy="344.7" r="0.70" fill="#b8bcc4" opacity="0.42"/><circle cx="369.7" cy="298.8" r="0.64" fill="#b8bcc4" opacity="0.44"/><circle cx="429.9" cy="333.7" r="0.57" fill="#b8bcc4" opacity="0.30"/><circle cx="432.6" cy="349.0" r="0.64" fill="#b8bcc4" opacity="0.23"/><circle cx="415.0" cy="319.1" r="0.58" fill="#b8bcc4" opacity="0.24"/><circle cx="397.3" cy="324.1" r="0.46" fill="#b8bcc4" opacity="0.37"/><circle cx="439.3" cy="332.9" r="0.53" fill="#b8bcc4" opacity="0.32"/><circle cx="376.4" cy="332.3" r="0.72" fill="#b8bcc4" opacity="0.22"/><circle cx="409.4" cy="323.0" r="0.69" fill="#b8bcc4" opacity="0.30"/><circle cx="391.7" cy="307.1" r="0.90" fill="#b8bcc4" opacity="0.28"/><circle cx="406.0" cy="314.1" r="0.49" fill="#b8bcc4" opacity="0.31"/><circle cx="384.0" cy="305.0" r="0.58" fill="#b8bcc4" opacity="0.29"/><circle cx="438.2" cy="303.3" r="0.57" fill="#b8bcc4" opacity="0.41"/><circle cx="398.2" cy="317.7" r="0.72" fill="#b8bcc4" opacity="0.18"/><circle cx="418.5" cy="290.4" r="0.53" fill="#b8bcc4" opacity="0.47"/><circle cx="442.0" cy="328.2" r="0.49" fill="#b8bcc4" opacity="0.33"/><circle cx="389.7" cy="339.2" r="0.52" fill="#b8bcc4" opacity="0.23"/><circle cx="416.0" cy="325.8" r="0.69" fill="#b8bcc4" opacity="0.34"/><circle cx="439.8" cy="314.0" r="0.87" fill="#b8bcc4" opacity="0.31"/><circle cx="403.2" cy="307.4" r="0.76" fill="#b8bcc4" opacity="0.45"/><circle cx="386.5" cy="318.4" r="0.76" fill="#b8bcc4" opacity="0.35"/><circle cx="417.8" cy="324.4" r="0.76" fill="#b8bcc4" opacity="0.29"/><circle cx="391.5" cy="285.3" r="0.85" fill="#b8bcc4" opacity="0.47"/><circle cx="397.7" cy="347.5" r="0.85" fill="#b8bcc4" opacity="0.21"/><circle cx="430.7" cy="311.5" r="0.56" fill="#b8bcc4" opacity="0.25"/><circle cx="399.4" cy="287.1" r="0.43" fill="#b8bcc4" opacity="0.20"/><circle cx="391.5" cy="294.2" r="0.46" fill="#b8bcc4" opacity="0.48"/><circle cx="396.9" cy="316.1" r="0.70" fill="#b8bcc4" opacity="0.52"/><circle cx="379.6" cy="298.8" r="0.83" fill="#b8bcc4" opacity="0.51"/><circle cx="437.8" cy="318.6" r="0.58" fill="#b8bcc4" opacity="0.23"/><circle cx="436.2" cy="334.2" r="0.68" fill="#b8bcc4" opacity="0.47"/><circle cx="388.1" cy="318.9" r="0.85" fill="#b8bcc4" opacity="0.19"/><circle cx="414.5" cy="295.9" r="0.82" fill="#b8bcc4" opacity="0.49"/><circle cx="416.5" cy="312.5" r="0.41" fill="#b8bcc4" opacity="0.35"/><circle cx="395.4" cy="310.1" r="0.44" fill="#b8bcc4" opacity="0.52"/><circle cx="407.4" cy="320.8" r="0.82" fill="#b8bcc4" opacity="0.51"/><circle cx="409.5" cy="319.6" r="0.82" fill="#b8bcc4" opacity="0.30"/><circle cx="435.4" cy="285.3" r="0.80" fill="#b8bcc4" opacity="0.36"/><circle cx="414.9" cy="349.1" r="0.51" fill="#b8bcc4" opacity="0.31"/><circle cx="428.0" cy="333.0" r="0.66" fill="#b8bcc4" opacity="0.46"/><circle cx="418.9" cy="341.1" r="0.73" fill="#b8bcc4" opacity="0.30"/><circle cx="390.0" cy="289.1" r="0.46" fill="#b8bcc4" opacity="0.17"/><circle cx="441.0" cy="293.0" r="0.70" fill="#b8bcc4" opacity="0.20"/><circle cx="440.3" cy="318.9" r="0.49" fill="#b8bcc4" opacity="0.48"/><circle cx="432.4" cy="348.2" r="0.51" fill="#b8bcc4" opacity="0.31"/><circle cx="417.7" cy="302.3" r="0.68" fill="#b8bcc4" opacity="0.43"/><circle cx="424.4" cy="338.1" r="0.78" fill="#b8bcc4" opacity="0.26"/><circle cx="424.7" cy="312.3" r="0.48" fill="#b8bcc4" opacity="0.16"/><circle cx="414.8" cy="307.3" r="0.45" fill="#b8bcc4" opacity="0.35"/><circle cx="399.5" cy="305.2" r="0.68" fill="#b8bcc4" opacity="0.37"/><circle cx="408.0" cy="348.9" r="0.85" fill="#b8bcc4" opacity="0.27"/><circle cx="433.3" cy="304.5" r="0.87" fill="#b8bcc4" opacity="0.17"/><circle cx="392.3" cy="345.2" r="0.73" fill="#b8bcc4" opacity="0.43"/><circle cx="383.9" cy="291.7" r="0.88" fill="#b8bcc4" opacity="0.18"/><circle cx="381.8" cy="312.1" r="0.81" fill="#b8bcc4" opacity="0.42"/><circle cx="442.7" cy="335.1" r="0.62" fill="#b8bcc4" opacity="0.51"/><circle cx="392.2" cy="287.1" r="0.88" fill="#b8bcc4" opacity="0.50"/><circle cx="417.7" cy="315.4" r="0.50" fill="#b8bcc4" opacity="0.24"/><circle cx="373.8" cy="289.9" r="0.64" fill="#b8bcc4" opacity="0.51"/><circle cx="437.8" cy="317.6" r="0.74" fill="#b8bcc4" opacity="0.34"/><circle cx="426.2" cy="330.3" r="0.89" fill="#b8bcc4" opacity="0.49"/><circle cx="419.0" cy="322.7" r="0.48" fill="#b8bcc4" opacity="0.34"/><circle cx="401.9" cy="293.9" r="0.50" fill="#b8bcc4" opacity="0.31"/><circle cx="381.8" cy="324.9" r="0.56" fill="#b8bcc4" opacity="0.55"/><circle cx="419.4" cy="317.8" r="0.62" fill="#b8bcc4" opacity="0.31"/><circle cx="383.6" cy="347.2" r="0.86" fill="#b8bcc4" opacity="0.41"/><circle cx="416.9" cy="293.2" r="0.67" fill="#b8bcc4" opacity="0.22"/><circle cx="392.8" cy="322.4" r="0.49" fill="#b8bcc4" opacity="0.24"/><circle cx="422.9" cy="315.7" r="0.84" fill="#b8bcc4" opacity="0.21"/><circle cx="375.4" cy="345.6" r="0.70" fill="#b8bcc4" opacity="0.43"/><circle cx="410.0" cy="293.5" r="0.89" fill="#b8bcc4" opacity="0.35"/><circle cx="436.1" cy="293.4" r="0.54" fill="#b8bcc4" opacity="0.37"/><circle cx="387.1" cy="340.4" r="0.53" fill="#b8bcc4" opacity="0.18"/><circle cx="380.9" cy="301.6" r="0.87" fill="#b8bcc4" opacity="0.50"/><circle cx="418.4" cy="311.8" r="0.42" fill="#b8bcc4" opacity="0.48"/><circle cx="378.1" cy="296.9" r="0.62" fill="#b8bcc4" opacity="0.49"/><circle cx="382.3" cy="287.8" r="0.85" fill="#b8bcc4" opacity="0.15"/><circle cx="420.7" cy="322.7" r="0.61" fill="#e6e6ea" opacity="0.47"/><circle cx="408.5" cy="331.1" r="0.91" fill="#e6e6ea" opacity="0.67"/><circle cx="424.2" cy="328.0" r="0.61" fill="#e6e6ea" opacity="0.83"/><circle cx="422.2" cy="325.3" r="0.63" fill="#e6e6ea" opacity="0.93"/><circle cx="422.4" cy="328.0" r="0.60" fill="#e6e6ea" opacity="0.88"/><circle cx="420.2" cy="335.6" r="0.52" fill="#e6e6ea" opacity="0.74"/><circle cx="424.9" cy="333.0" r="0.86" fill="#e6e6ea" opacity="0.88"/><circle cx="405.0" cy="332.8" r="0.67" fill="#e6e6ea" opacity="0.92"/><circle cx="439.6" cy="314.8" r="0.51" fill="#e6e6ea" opacity="0.51"/><circle cx="416.9" cy="314.2" r="0.59" fill="#e6e6ea" opacity="0.81"/><circle cx="420.5" cy="326.1" r="0.50" fill="#e6e6ea" opacity="0.35"/><circle cx="422.9" cy="339.8" r="0.82" fill="#e6e6ea" opacity="0.87"/><circle cx="426.2" cy="323.0" r="0.83" fill="#e6e6ea" opacity="0.74"/><circle cx="420.1" cy="323.5" r="0.94" fill="#e6e6ea" opacity="0.44"/><circle cx="412.4" cy="329.1" r="0.86" fill="#e6e6ea" opacity="0.85"/><circle cx="419.1" cy="330.7" r="0.85" fill="#e6e6ea" opacity="0.38"/><circle cx="424.7" cy="322.3" r="0.67" fill="#e6e6ea" opacity="0.54"/><circle cx="420.2" cy="322.4" r="0.52" fill="#e6e6ea" opacity="0.39"/><circle cx="426.7" cy="332.1" r="0.99" fill="#e6e6ea" opacity="0.35"/><circle cx="415.5" cy="327.3" r="0.62" fill="#e6e6ea" opacity="0.56"/><circle cx="425.9" cy="330.0" r="0.60" fill="#e6e6ea" opacity="0.39"/><circle cx="430.1" cy="336.3" r="0.85" fill="#e6e6ea" opacity="0.94"/><circle cx="424.8" cy="317.0" r="0.57" fill="#e6e6ea" opacity="0.42"/><circle cx="430.1" cy="325.1" r="0.85" fill="#e6e6ea" opacity="0.44"/><circle cx="422.9" cy="318.8" r="0.50" fill="#e6e6ea" opacity="0.48"/><circle cx="429.2" cy="324.3" r="0.50" fill="#e6e6ea" opacity="0.40"/><circle cx="421.0" cy="320.4" r="0.71" fill="#e6e6ea" opacity="0.43"/><circle cx="424.1" cy="332.3" r="0.69" fill="#e6e6ea" opacity="0.46"/><circle cx="424.8" cy="331.3" r="0.51" fill="#e6e6ea" opacity="0.39"/><circle cx="419.1" cy="326.3" r="0.85" fill="#e6e6ea" opacity="0.81"/><circle cx="416.9" cy="311.8" r="0.54" fill="#e6e6ea" opacity="0.60"/><circle cx="419.0" cy="327.2" r="0.92" fill="#e6e6ea" opacity="0.37"/><circle cx="430.0" cy="325.0" r="0.99" fill="#e6e6ea" opacity="0.39"/><circle cx="433.1" cy="316.4" r="0.88" fill="#e6e6ea" opacity="0.70"/><circle cx="416.9" cy="320.5" r="0.92" fill="#e6e6ea" opacity="0.70"/><circle cx="415.2" cy="324.2" r="0.80" fill="#e6e6ea" opacity="0.70"/><circle cx="430.6" cy="322.2" r="0.63" fill="#e6e6ea" opacity="0.78"/><circle cx="421.7" cy="332.8" r="0.74" fill="#e6e6ea" opacity="0.79"/><circle cx="424.0" cy="327.5" r="0.55" fill="#e6e6ea" opacity="0.72"/><circle cx="424.7" cy="332.7" r="0.93" fill="#e6e6ea" opacity="0.61"/><circle cx="422.3" cy="334.0" r="0.68" fill="#e6e6ea" opacity="0.61"/><circle cx="425.0" cy="334.2" r="0.64" fill="#e6e6ea" opacity="0.94"/><circle cx="411.9" cy="326.2" r="0.96" fill="#e6e6ea" opacity="0.94"/><circle cx="434.6" cy="327.8" r="0.51" fill="#e6e6ea" opacity="0.92"/><circle cx="422.1" cy="321.5" r="0.84" fill="#e6e6ea" opacity="0.69"/><circle cx="413.0" cy="328.5" r="0.70" fill="#e6e6ea" opacity="0.74"/><circle cx="420.8" cy="325.4" r="0.80" fill="#e6e6ea" opacity="0.77"/><circle cx="426.0" cy="320.5" r="0.75" fill="#e6e6ea" opacity="0.44"/><circle cx="425.3" cy="338.0" r="0.48" fill="#e6e6ea" opacity="0.89"/><circle cx="425.2" cy="330.1" r="0.79" fill="#e6e6ea" opacity="0.37"/><circle cx="410.9" cy="329.5" r="0.66" fill="#e6e6ea" opacity="0.46"/><circle cx="434.6" cy="331.3" r="0.51" fill="#e6e6ea" opacity="0.75"/><circle cx="417.8" cy="322.3" r="0.76" fill="#e6e6ea" opacity="0.76"/><circle cx="422.2" cy="330.3" r="0.96" fill="#e6e6ea" opacity="0.47"/><circle cx="414.4" cy="326.5" r="0.88" fill="#e6e6ea" opacity="0.86"/><circle cx="421.7" cy="317.6" r="0.75" fill="#e6e6ea" opacity="0.40"/><circle cx="415.3" cy="323.1" r="0.87" fill="#e6e6ea" opacity="0.58"/><circle cx="425.2" cy="330.1" r="0.91" fill="#e6e6ea" opacity="0.65"/><circle cx="420.0" cy="324.2" r="0.57" fill="#e6e6ea" opacity="0.51"/><circle cx="418.0" cy="326.3" r="0.97" fill="#e6e6ea" opacity="0.55"/><circle cx="425.4" cy="326.0" r="0.73" fill="#e6e6ea" opacity="0.72"/><circle cx="422.0" cy="323.7" r="0.98" fill="#e6e6ea" opacity="0.86"/><circle cx="412.4" cy="325.2" r="0.62" fill="#e6e6ea" opacity="0.44"/><circle cx="436.3" cy="327.0" r="0.94" fill="#e6e6ea" opacity="0.62"/><circle cx="415.5" cy="321.9" r="0.83" fill="#e6e6ea" opacity="0.41"/><circle cx="421.1" cy="322.3" r="0.78" fill="#e6e6ea" opacity="0.72"/><circle cx="425.8" cy="319.2" r="0.55" fill="#e6e6ea" opacity="0.84"/><circle cx="415.6" cy="331.5" r="0.89" fill="#e6e6ea" opacity="0.94"/><circle cx="426.2" cy="330.0" r="0.62" fill="#e6e6ea" opacity="0.86"/><circle cx="410.4" cy="333.9" r="0.89" fill="#e6e6ea" opacity="0.60"/><circle cx="421.8" cy="317.0" r="0.51" fill="#e6e6ea" opacity="0.53"/><circle cx="428.5" cy="334.5" r="0.67" fill="#e6e6ea" opacity="0.53"/><circle cx="417.4" cy="308.8" r="0.53" fill="#e6e6ea" opacity="0.76"/><circle cx="422.4" cy="336.5" r="0.86" fill="#e6e6ea" opacity="0.81"/><circle cx="418.3" cy="324.5" r="0.92" fill="#e6e6ea" opacity="0.42"/><circle cx="407.7" cy="318.7" r="0.60" fill="#e6e6ea" opacity="0.64"/><circle cx="417.1" cy="318.3" r="0.63" fill="#e6e6ea" opacity="0.60"/><circle cx="428.6" cy="320.2" r="0.55" fill="#e6e6ea" opacity="0.76"/><circle cx="425.9" cy="319.5" r="0.94" fill="#e6e6ea" opacity="0.51"/><circle cx="418.0" cy="337.7" r="0.59" fill="#e6e6ea" opacity="0.43"/><circle cx="428.4" cy="336.0" r="0.90" fill="#e6e6ea" opacity="0.47"/><circle cx="420.8" cy="322.0" r="0.79" fill="#e6e6ea" opacity="0.36"/><circle cx="412.1" cy="321.4" r="0.73" fill="#e6e6ea" opacity="0.73"/><circle cx="425.9" cy="330.5" r="0.88" fill="#e6e6ea" opacity="0.57"/><circle cx="420.7" cy="317.9" r="0.89" fill="#e6e6ea" opacity="0.79"/><circle cx="417.2" cy="336.4" r="0.90" fill="#e6e6ea" opacity="0.61"/><circle cx="419.8" cy="319.9" r="0.77" fill="#e6e6ea" opacity="0.54"/><circle cx="416.0" cy="327.2" r="0.94" fill="#e6e6ea" opacity="0.72"/><circle cx="415.5" cy="321.2" r="0.71" fill="#e6e6ea" opacity="0.45"/><circle cx="417.1" cy="320.8" r="0.64" fill="#e6e6ea" opacity="0.66"/><circle cx="426.9" cy="332.3" r="0.88" fill="#e6e6ea" opacity="0.57"/><circle cx="429.3" cy="339.4" r="0.79" fill="#e6e6ea" opacity="0.54"/><circle cx="427.6" cy="330.2" r="0.57" fill="#e6e6ea" opacity="0.89"/><circle cx="420.0" cy="321.3" r="0.67" fill="#e6e6ea" opacity="0.40"/><circle cx="422.2" cy="333.6" r="0.94" fill="#e6e6ea" opacity="0.61"/><circle cx="425.5" cy="324.9" r="0.51" fill="#e6e6ea" opacity="0.85"/><circle cx="417.5" cy="329.4" r="0.69" fill="#e6e6ea" opacity="0.72"/><circle cx="421.5" cy="328.8" r="0.78" fill="#e6e6ea" opacity="0.74"/><circle cx="417.7" cy="324.7" r="0.92" fill="#e6e6ea" opacity="0.61"/><circle cx="408.9" cy="322.7" r="0.52" fill="#e6e6ea" opacity="0.65"/><circle cx="413.4" cy="329.9" r="0.57" fill="#e6e6ea" opacity="0.49"/><circle cx="422.1" cy="333.6" r="0.62" fill="#e6e6ea" opacity="0.91"/><circle cx="427.7" cy="319.0" r="0.67" fill="#e6e6ea" opacity="0.84"/><circle cx="411.6" cy="321.3" r="0.98" fill="#e6e6ea" opacity="0.42"/><circle cx="421.9" cy="313.0" r="0.67" fill="#e6e6ea" opacity="0.56"/><circle cx="433.5" cy="328.5" r="0.56" fill="#e6e6ea" opacity="0.36"/><circle cx="427.1" cy="329.8" r="0.83" fill="#e6e6ea" opacity="0.89"/><circle cx="419.6" cy="323.6" r="0.96" fill="#e6e6ea" opacity="0.87"/><circle cx="425.5" cy="313.9" r="0.91" fill="#e6e6ea" opacity="0.76"/><circle cx="421.1" cy="324.7" r="0.99" fill="#e6e6ea" opacity="0.35"/><circle cx="383.2" cy="326.9" r="0.73" fill="#e6e6ea" opacity="0.55"/><circle cx="384.6" cy="323.8" r="0.81" fill="#e6e6ea" opacity="0.37"/><circle cx="384.9" cy="330.0" r="0.70" fill="#e6e6ea" opacity="0.36"/><circle cx="377.9" cy="326.9" r="0.74" fill="#e6e6ea" opacity="0.79"/><circle cx="378.6" cy="333.4" r="0.74" fill="#e6e6ea" opacity="0.84"/><circle cx="382.6" cy="317.5" r="0.67" fill="#e6e6ea" opacity="0.91"/><circle cx="399.7" cy="323.2" r="0.95" fill="#e6e6ea" opacity="0.57"/><circle cx="383.4" cy="333.0" r="0.90" fill="#e6e6ea" opacity="0.70"/><circle cx="388.3" cy="323.7" r="0.76" fill="#e6e6ea" opacity="0.39"/><circle cx="385.5" cy="323.4" r="0.78" fill="#e6e6ea" opacity="0.44"/><circle cx="385.0" cy="331.6" r="0.77" fill="#e6e6ea" opacity="0.43"/><circle cx="390.0" cy="323.9" r="0.68" fill="#e6e6ea" opacity="0.78"/><circle cx="382.7" cy="320.5" r="0.95" fill="#e6e6ea" opacity="0.41"/><circle cx="385.2" cy="323.8" r="0.78" fill="#e6e6ea" opacity="0.63"/><circle cx="382.8" cy="317.5" r="0.73" fill="#e6e6ea" opacity="0.60"/><circle cx="386.2" cy="322.9" r="0.95" fill="#e6e6ea" opacity="0.58"/><circle cx="379.4" cy="324.1" r="0.91" fill="#e6e6ea" opacity="0.95"/><circle cx="387.4" cy="318.1" r="0.69" fill="#e6e6ea" opacity="0.82"/><circle cx="388.5" cy="323.5" r="0.76" fill="#e6e6ea" opacity="0.75"/><circle cx="383.1" cy="331.3" r="0.86" fill="#e6e6ea" opacity="0.88"/><circle cx="387.1" cy="331.1" r="0.76" fill="#e6e6ea" opacity="0.55"/><circle cx="388.4" cy="326.1" r="0.91" fill="#e6e6ea" opacity="0.52"/><circle cx="386.8" cy="327.1" r="0.76" fill="#e6e6ea" opacity="0.65"/><circle cx="390.4" cy="322.5" r="0.64" fill="#e6e6ea" opacity="0.85"/><circle cx="389.5" cy="322.3" r="0.70" fill="#e6e6ea" opacity="0.95"/><circle cx="393.3" cy="323.4" r="0.86" fill="#e6e6ea" opacity="0.55"/><circle cx="398.8" cy="328.2" r="0.52" fill="#e6e6ea" opacity="0.95"/><circle cx="379.7" cy="326.9" r="0.71" fill="#e6e6ea" opacity="0.89"/><circle cx="388.9" cy="320.9" r="0.46" fill="#e6e6ea" opacity="0.45"/><circle cx="387.1" cy="322.5" r="0.49" fill="#e6e6ea" opacity="0.58"/><circle cx="393.0" cy="325.4" r="0.80" fill="#e6e6ea" opacity="0.49"/><circle cx="390.0" cy="320.2" r="0.65" fill="#e6e6ea" opacity="0.59"/><circle cx="389.9" cy="322.7" r="0.90" fill="#e6e6ea" opacity="0.41"/><circle cx="395.3" cy="322.8" r="0.86" fill="#e6e6ea" opacity="0.66"/><circle cx="385.3" cy="317.3" r="0.53" fill="#e6e6ea" opacity="0.47"/><circle cx="392.0" cy="322.1" r="0.58" fill="#e6e6ea" opacity="0.38"/><circle cx="387.0" cy="315.4" r="0.47" fill="#e6e6ea" opacity="0.87"/><circle cx="393.4" cy="327.9" r="0.73" fill="#e6e6ea" opacity="0.50"/><circle cx="386.4" cy="329.2" r="0.88" fill="#e6e6ea" opacity="0.50"/><circle cx="390.5" cy="337.6" r="0.60" fill="#e6e6ea" opacity="0.41"/><circle cx="399.4" cy="319.2" r="0.57" fill="#e6e6ea" opacity="0.67"/><circle cx="392.1" cy="320.9" r="0.64" fill="#e6e6ea" opacity="0.35"/><circle cx="393.7" cy="329.0" r="0.72" fill="#e6e6ea" opacity="0.87"/><circle cx="385.3" cy="325.3" r="0.67" fill="#e6e6ea" opacity="0.43"/><circle cx="381.4" cy="325.0" r="0.55" fill="#e6e6ea" opacity="0.70"/><circle cx="396.7" cy="323.9" r="0.62" fill="#e6e6ea" opacity="0.74"/><circle cx="390.9" cy="325.5" r="0.89" fill="#e6e6ea" opacity="0.77"/><circle cx="384.4" cy="319.5" r="0.64" fill="#e6e6ea" opacity="0.85"/><circle cx="379.7" cy="323.1" r="0.85" fill="#e6e6ea" opacity="0.55"/><circle cx="390.9" cy="319.7" r="0.79" fill="#e6e6ea" opacity="0.86"/><circle cx="404.7" cy="310.4" r="0.56" fill="#e6e6ea" opacity="0.45"/><circle cx="400.1" cy="309.0" r="0.53" fill="#e6e6ea" opacity="0.70"/><circle cx="390.9" cy="315.2" r="0.55" fill="#e6e6ea" opacity="0.66"/><circle cx="401.0" cy="311.3" r="0.66" fill="#e6e6ea" opacity="0.59"/><circle cx="399.9" cy="313.6" r="0.62" fill="#e6e6ea" opacity="0.68"/><circle cx="402.6" cy="316.3" r="0.66" fill="#e6e6ea" opacity="0.53"/><circle cx="402.9" cy="306.7" r="0.69" fill="#e6e6ea" opacity="0.51"/><circle cx="390.8" cy="311.6" r="0.87" fill="#e6e6ea" opacity="0.75"/><circle cx="400.9" cy="312.0" r="1.00" fill="#e6e6ea" opacity="0.68"/><circle cx="395.5" cy="311.8" r="0.88" fill="#e6e6ea" opacity="0.85"/><circle cx="396.5" cy="315.0" r="0.49" fill="#e6e6ea" opacity="0.53"/><circle cx="392.6" cy="311.7" r="0.45" fill="#e6e6ea" opacity="0.41"/><circle cx="398.8" cy="319.5" r="0.98" fill="#e6e6ea" opacity="0.87"/><circle cx="393.3" cy="312.2" r="0.94" fill="#e6e6ea" opacity="0.80"/><circle cx="393.3" cy="307.1" r="0.97" fill="#e6e6ea" opacity="0.67"/><circle cx="397.7" cy="318.5" r="0.96" fill="#e6e6ea" opacity="0.49"/><circle cx="391.7" cy="316.5" r="0.89" fill="#e6e6ea" opacity="0.38"/><circle cx="399.3" cy="309.2" r="0.52" fill="#e6e6ea" opacity="0.38"/><circle cx="392.7" cy="313.1" r="0.55" fill="#e6e6ea" opacity="0.78"/><circle cx="402.5" cy="320.4" r="1.00" fill="#e6e6ea" opacity="0.55"/><circle cx="399.9" cy="312.2" r="0.74" fill="#e6e6ea" opacity="0.56"/><circle cx="398.9" cy="308.0" r="0.59" fill="#e6e6ea" opacity="0.45"/><circle cx="406.5" cy="311.7" r="0.82" fill="#e6e6ea" opacity="0.48"/><circle cx="390.1" cy="314.3" r="0.81" fill="#e6e6ea" opacity="0.52"/><circle cx="392.6" cy="317.9" r="0.48" fill="#e6e6ea" opacity="0.74"/><circle cx="436.0" cy="290.7" r="0.75" fill="#e6e6ea" opacity="0.90"/><circle cx="434.7" cy="311.9" r="0.85" fill="#e6e6ea" opacity="0.79"/><circle cx="441.2" cy="305.0" r="0.66" fill="#e6e6ea" opacity="0.43"/><circle cx="439.0" cy="296.6" r="0.71" fill="#e6e6ea" opacity="0.53"/><circle cx="438.9" cy="304.3" r="0.79" fill="#e6e6ea" opacity="0.73"/><circle cx="437.0" cy="295.4" r="0.60" fill="#e6e6ea" opacity="0.85"/><circle cx="432.1" cy="298.0" r="0.70" fill="#e6e6ea" opacity="0.60"/><circle cx="442.6" cy="303.2" r="0.95" fill="#e6e6ea" opacity="0.78"/><circle cx="437.9" cy="311.0" r="0.82" fill="#e6e6ea" opacity="0.52"/><circle cx="432.5" cy="311.8" r="0.59" fill="#e6e6ea" opacity="0.72"/><circle cx="437.6" cy="300.5" r="0.47" fill="#e6e6ea" opacity="0.53"/><circle cx="440.6" cy="295.5" r="0.72" fill="#e6e6ea" opacity="0.44"/><circle cx="435.5" cy="298.5" r="0.49" fill="#e6e6ea" opacity="0.55"/><circle cx="436.8" cy="314.0" r="0.76" fill="#e6e6ea" opacity="0.73"/><circle cx="436.5" cy="307.9" r="0.51" fill="#e6e6ea" opacity="0.52"/><circle cx="441.5" cy="299.5" r="0.64" fill="#e6e6ea" opacity="0.73"/><circle cx="441.6" cy="292.2" r="0.74" fill="#e6e6ea" opacity="0.44"/><circle cx="438.1" cy="301.0" r="0.90" fill="#e6e6ea" opacity="0.82"/><circle cx="435.5" cy="287.8" r="0.53" fill="#e6e6ea" opacity="0.70"/><circle cx="437.8" cy="300.1" r="0.79" fill="#e6e6ea" opacity="0.35"/><circle cx="434.6" cy="303.9" r="0.93" fill="#e6e6ea" opacity="0.56"/><circle cx="438.3" cy="311.6" r="0.53" fill="#e6e6ea" opacity="0.94"/><circle cx="445.2" cy="288.4" r="0.79" fill="#e6e6ea" opacity="0.46"/><circle cx="438.4" cy="312.1" r="0.69" fill="#e6e6ea" opacity="0.77"/><circle cx="438.0" cy="310.0" r="0.92" fill="#e6e6ea" opacity="0.52"/></g></g>
<g filter="url(#blur1)"><circle cx="399.4" cy="296.0" r="5.4" fill="#7a5e4c" stroke="#c8beb4" stroke-width="1.3" stroke-dasharray="1.2,0.8"/><circle cx="399.0" cy="296.5" r="2.8" fill="#5e4434"/></g>
<text x="294.20" y="268.90" font-size="8.0" textLength="52.60" lengthAdjust="spacingAndGlyphs" font-weight="bold" fill="#111" stroke="#111" stroke-width="0.5">sh-scrambled</text>
<text x="294.20" y="277.60" font-size="8.0" font-weight="bold" fill="#111" stroke="#111" stroke-width="0.5"><tspan>CD34</tspan><tspan font-size="5.4" dy="-3.0">+</tspan><tspan font-size="8.0" dy="3.0">38</tspan><tspan font-size="5.4" dy="-3.0">-</tspan></text>
<text x="369.90" y="268.80" font-size="8.0" textLength="31.30" lengthAdjust="spacingAndGlyphs" font-weight="bold" fill="#111" stroke="#111" stroke-width="0.5">sh-E2F1</text>
<text x="369.90" y="277.20" font-size="8.0" font-weight="bold" fill="#111" stroke="#111" stroke-width="0.5"><tspan>CD34</tspan><tspan font-size="5.4" dy="-3.0">+</tspan><tspan font-size="8.0" dy="3.0">38</tspan><tspan font-size="5.4" dy="-3.0">-</tspan></text>
<text x="297.00" y="336.50" font-size="8.0" textLength="52.70" lengthAdjust="spacingAndGlyphs" font-weight="bold" fill="#f4f4f4" stroke="#f4f4f4" stroke-width="0.5">sh-scrambled</text>
<text x="297.00" y="345.20" font-size="8.0" font-weight="bold" fill="#f4f4f4" stroke="#f4f4f4" stroke-width="0.5"><tspan>CD34</tspan><tspan font-size="5.4" dy="-3.0">+</tspan><tspan font-size="8.0" dy="3.0">38</tspan><tspan font-size="5.4" dy="-3.0">-</tspan></text>
<text x="371.60" y="335.80" font-size="8.0" textLength="31.40" lengthAdjust="spacingAndGlyphs" font-weight="bold" fill="#f4f4f4" stroke="#f4f4f4" stroke-width="0.5">sh-E2F1</text>
<text x="371.60" y="344.20" font-size="8.0" font-weight="bold" fill="#f4f4f4" stroke="#f4f4f4" stroke-width="0.5"><tspan>CD34</tspan><tspan font-size="5.4" dy="-3.0">+</tspan><tspan font-size="8.0" dy="3.0">38</tspan><tspan font-size="5.4" dy="-3.0">-</tspan></text>
<text transform="translate(288.30,249.50) rotate(-90)" x="0" y="0" font-size="10.4" text-anchor="middle" textLength="20.60" lengthAdjust="spacingAndGlyphs" fill="#151515" stroke="#151515" stroke-width="0.3">CML</text>
<text transform="translate(288.30,316.30) rotate(-90)" x="0" y="0" font-size="10.4" text-anchor="middle" textLength="33.20" lengthAdjust="spacingAndGlyphs" fill="#151515" stroke="#151515" stroke-width="0.3">Normal</text>
<text x="7.80" y="416.20" font-size="11" font-weight="bold" fill="#111" stroke="#111" stroke-width="0.45">D</text>
<text x="108.90" y="438.80" font-size="10" text-anchor="middle" textLength="21.20" lengthAdjust="spacingAndGlyphs" fill="#2a2a2a" >CML</text>
<text x="221.00" y="438.80" font-size="10" text-anchor="middle" textLength="33.00" lengthAdjust="spacingAndGlyphs" fill="#2a2a2a" >Normal</text>
<text transform="translate(43.40,492.70) rotate(-90)" x="0" y="0" font-size="10" text-anchor="middle" textLength="20.60" lengthAdjust="spacingAndGlyphs" fill="#2a2a2a" >Count</text>
<text x="54.00" y="544.80" font-size="8.6" text-anchor="end" textLength="4.80" lengthAdjust="spacingAndGlyphs" fill="#2a2a2a" >0</text>
<polyline points="80.00,541.40 92.00,541.00 95.80,540.20 100.00,539.60 103.00,539.20 106.60,535.50 108.40,532.50 110.20,528.30 112.00,522.50 113.80,515.70 115.20,508.00 116.50,501.30 117.50,494.00 118.40,486.90 119.60,481.50 120.00,468.00 120.40,458.00 121.20,462.00 122.70,472.00 123.80,462.00 125.00,460.80 126.50,473.00 127.50,466.00 129.20,459.20 130.50,462.00 131.50,459.00 133.00,456.50 134.00,458.00 134.60,463.00 135.80,476.00 137.30,494.00 139.10,512.10 141.80,526.50 144.50,537.40 147.20,540.30 152.00,541.20" fill="none" stroke="#76b444" stroke-width="1.6" stroke-linejoin="round"/>
<polygon points="117.40,541.80 117.40,541.50 121.00,533.70 124.70,524.70 127.40,512.10 130.00,497.70 132.20,483.30 134.00,470.60 135.80,463.40 137.60,470.60 139.10,486.90 140.90,497.70 143.60,504.90 146.30,512.10 149.00,515.70 151.70,521.10 154.40,528.30 157.10,537.40 157.80,541.50 157.80,541.80" fill="#c7604a" fill-opacity="0.7" stroke="none"/>
<polyline points="92.50,541.50 95.80,540.00 98.50,538.50 101.20,536.50 103.00,535.40 104.80,535.20 106.20,535.60 107.50,536.50 110.20,538.20 113.00,537.40 114.50,538.40 116.50,538.20 118.50,537.40 120.20,537.40 122.90,532.00 124.70,526.50 127.40,524.70 130.00,515.70 131.90,511.20 133.70,499.50 135.50,486.90 137.30,468.80 138.70,458.00 140.00,461.60 141.20,472.40 143.00,490.50 144.80,508.50 146.70,526.50 148.50,537.40 150.30,540.50 158.00,541.30" fill="none" stroke="#24407a" stroke-width="1.6" stroke-linejoin="round"/>
<polyline points="117.40,541.50 121.00,533.70 124.70,524.70 127.40,512.10 130.00,497.70 132.20,483.30 134.00,470.60 135.80,463.40 137.60,470.60 139.10,486.90 140.90,497.70 143.60,504.90 146.30,512.10 149.00,515.70 151.70,521.10 154.40,528.30 157.10,537.40 157.80,541.50" fill="none" stroke="#8a1538" stroke-width="1.8" stroke-dasharray="3,1.8" stroke-linejoin="round"/>
<rect x="59.60" y="444.00" width="98.40" height="97.80" fill="none" stroke="#111" stroke-width="1.8"/>
<line x1="58.10" y1="541.80" x2="158.00" y2="541.80" stroke="#1a1a1a" stroke-width="1.6" />
<line x1="59.60" y1="541.80" x2="59.60" y2="544.80" stroke="#1a1a1a" stroke-width="1.1" />
<line x1="67.01" y1="541.80" x2="67.01" y2="543.40" stroke="#1a1a1a" stroke-width="0.8" />
<line x1="71.34" y1="541.80" x2="71.34" y2="543.40" stroke="#1a1a1a" stroke-width="0.8" />
<line x1="74.41" y1="541.80" x2="74.41" y2="543.40" stroke="#1a1a1a" stroke-width="0.8" />
<line x1="76.79" y1="541.80" x2="76.79" y2="543.40" stroke="#1a1a1a" stroke-width="0.8" />
<line x1="78.74" y1="541.80" x2="78.74" y2="543.40" stroke="#1a1a1a" stroke-width="0.8" />
<line x1="80.39" y1="541.80" x2="80.39" y2="543.40" stroke="#1a1a1a" stroke-width="0.8" />
<line x1="81.82" y1="541.80" x2="81.82" y2="543.40" stroke="#1a1a1a" stroke-width="0.8" />
<line x1="83.07" y1="541.80" x2="83.07" y2="543.40" stroke="#1a1a1a" stroke-width="0.8" />
<line x1="84.20" y1="541.80" x2="84.20" y2="544.80" stroke="#1a1a1a" stroke-width="1.1" />
<line x1="91.61" y1="541.80" x2="91.61" y2="543.40" stroke="#1a1a1a" stroke-width="0.8" />
<line x1="95.94" y1="541.80" x2="95.94" y2="543.40" stroke="#1a1a1a" stroke-width="0.8" />
<line x1="99.01" y1="541.80" x2="99.01" y2="543.40" stroke="#1a1a1a" stroke-width="0.8" />
<line x1="101.39" y1="541.80" x2="101.39" y2="543.40" stroke="#1a1a1a" stroke-width="0.8" />
<line x1="103.34" y1="541.80" x2="103.34" y2="543.40" stroke="#1a1a1a" stroke-width="0.8" />
<line x1="104.99" y1="541.80" x2="104.99" y2="543.40" stroke="#1a1a1a" stroke-width="0.8" />
<line x1="106.42" y1="541.80" x2="106.42" y2="543.40" stroke="#1a1a1a" stroke-width="0.8" />
<line x1="107.67" y1="541.80" x2="107.67" y2="543.40" stroke="#1a1a1a" stroke-width="0.8" />
<line x1="108.80" y1="541.80" x2="108.80" y2="544.80" stroke="#1a1a1a" stroke-width="1.1" />
<line x1="116.21" y1="541.80" x2="116.21" y2="543.40" stroke="#1a1a1a" stroke-width="0.8" />
<line x1="120.54" y1="541.80" x2="120.54" y2="543.40" stroke="#1a1a1a" stroke-width="0.8" />
<line x1="123.61" y1="541.80" x2="123.61" y2="543.40" stroke="#1a1a1a" stroke-width="0.8" />
<line x1="125.99" y1="541.80" x2="125.99" y2="543.40" stroke="#1a1a1a" stroke-width="0.8" />
<line x1="127.94" y1="541.80" x2="127.94" y2="543.40" stroke="#1a1a1a" stroke-width="0.8" />
<line x1="129.59" y1="541.80" x2="129.59" y2="543.40" stroke="#1a1a1a" stroke-width="0.8" />
<line x1="131.02" y1="541.80" x2="131.02" y2="543.40" stroke="#1a1a1a" stroke-width="0.8" />
<line x1="132.27" y1="541.80" x2="132.27" y2="543.40" stroke="#1a1a1a" stroke-width="0.8" />
<line x1="133.40" y1="541.80" x2="133.40" y2="544.80" stroke="#1a1a1a" stroke-width="1.1" />
<line x1="140.81" y1="541.80" x2="140.81" y2="543.40" stroke="#1a1a1a" stroke-width="0.8" />
<line x1="145.14" y1="541.80" x2="145.14" y2="543.40" stroke="#1a1a1a" stroke-width="0.8" />
<line x1="148.21" y1="541.80" x2="148.21" y2="543.40" stroke="#1a1a1a" stroke-width="0.8" />
<line x1="150.59" y1="541.80" x2="150.59" y2="543.40" stroke="#1a1a1a" stroke-width="0.8" />
<line x1="152.54" y1="541.80" x2="152.54" y2="543.40" stroke="#1a1a1a" stroke-width="0.8" />
<line x1="154.19" y1="541.80" x2="154.19" y2="543.40" stroke="#1a1a1a" stroke-width="0.8" />
<line x1="155.62" y1="541.80" x2="155.62" y2="543.40" stroke="#1a1a1a" stroke-width="0.8" />
<line x1="156.87" y1="541.80" x2="156.87" y2="543.40" stroke="#1a1a1a" stroke-width="0.8" />
<line x1="158.00" y1="541.80" x2="158.00" y2="544.80" stroke="#1a1a1a" stroke-width="1.1" />
<text x="54.30" y="558.4" font-size="8.4" fill="#2a2a2a" textLength="8.9" lengthAdjust="spacingAndGlyphs">10</text>
<text x="63.20" y="555.3" font-size="5.6" fill="#2a2a2a">0</text>
<text x="78.90" y="558.4" font-size="8.4" fill="#2a2a2a" textLength="8.9" lengthAdjust="spacingAndGlyphs">10</text>
<text x="87.80" y="555.3" font-size="5.6" fill="#2a2a2a">1</text>
<text x="103.50" y="558.4" font-size="8.4" fill="#2a2a2a" textLength="8.9" lengthAdjust="spacingAndGlyphs">10</text>
<text x="112.40" y="555.3" font-size="5.6" fill="#2a2a2a">2</text>
<text x="128.10" y="558.4" font-size="8.4" fill="#2a2a2a" textLength="8.9" lengthAdjust="spacingAndGlyphs">10</text>
<text x="137.00" y="555.3" font-size="5.6" fill="#2a2a2a">3</text>
<text x="151.70" y="558.4" font-size="8.4" fill="#2a2a2a" textLength="8.9" lengthAdjust="spacingAndGlyphs">10</text>
<polyline points="210.00,541.50 213.00,541.00 214.80,535.50 216.60,521.10 218.40,497.70 220.20,468.80 222.00,456.20 223.50,450.80 224.70,453.50 226.00,456.20 227.40,463.40 229.30,483.30 231.10,499.50 233.80,512.10 237.40,522.90 241.90,531.90 249.10,537.40 256.30,540.00 264.00,541.20" fill="none" stroke="#24407a" stroke-width="1.6" stroke-linejoin="round"/>
<polyline points="195.00,541.50 203.10,541.00 206.70,535.50 210.30,530.10 213.00,526.50 214.80,512.10 216.60,490.50 218.40,468.80 219.90,452.60 221.10,456.20 222.00,459.80 222.90,454.40 224.20,461.60 225.60,476.00 227.40,492.30 230.20,506.70 233.80,517.50 238.30,526.50 243.70,532.80 250.90,537.40 258.10,540.00 261.70,541.00" fill="none" stroke="#76b444" stroke-width="1.6" stroke-linejoin="round"/>
<polygon points="214.80,541.80 214.80,541.50 218.40,533.70 222.00,521.10 225.60,512.10 228.40,503.10 230.20,486.90 232.00,467.00 233.20,455.30 234.70,461.60 236.10,476.00 237.40,494.00 239.20,510.30 241.90,522.90 245.50,531.90 250.90,537.40 256.30,540.00 262.00,541.50 262.00,541.80" fill="#c7604a" fill-opacity="0.7" stroke="none"/>
<polyline points="214.80,541.50 218.40,533.70 222.00,521.10 225.60,512.10 228.40,503.10 230.20,486.90 232.00,467.00 233.20,455.30 234.70,461.60 236.10,476.00 237.40,494.00 239.20,510.30 241.90,522.90 245.50,531.90 250.90,537.40 256.30,540.00 262.00,541.50" fill="none" stroke="#8a1538" stroke-width="1.8" stroke-dasharray="3,1.8" stroke-linejoin="round"/>
<rect x="172.00" y="443.80" width="98.00" height="98.00" fill="none" stroke="#111" stroke-width="1.8"/>
<line x1="170.50" y1="541.80" x2="270.00" y2="541.80" stroke="#1a1a1a" stroke-width="1.6" />
<line x1="172.00" y1="541.80" x2="172.00" y2="544.80" stroke="#1a1a1a" stroke-width="1.1" />
<line x1="179.38" y1="541.80" x2="179.38" y2="543.40" stroke="#1a1a1a" stroke-width="0.8" />
<line x1="183.69" y1="541.80" x2="183.69" y2="543.40" stroke="#1a1a1a" stroke-width="0.8" />
<line x1="186.75" y1="541.80" x2="186.75" y2="543.40" stroke="#1a1a1a" stroke-width="0.8" />
<line x1="189.12" y1="541.80" x2="189.12" y2="543.40" stroke="#1a1a1a" stroke-width="0.8" />
<line x1="191.06" y1="541.80" x2="191.06" y2="543.40" stroke="#1a1a1a" stroke-width="0.8" />
<line x1="192.70" y1="541.80" x2="192.70" y2="543.40" stroke="#1a1a1a" stroke-width="0.8" />
<line x1="194.13" y1="541.80" x2="194.13" y2="543.40" stroke="#1a1a1a" stroke-width="0.8" />
<line x1="195.38" y1="541.80" x2="195.38" y2="543.40" stroke="#1a1a1a" stroke-width="0.8" />
<line x1="196.50" y1="541.80" x2="196.50" y2="544.80" stroke="#1a1a1a" stroke-width="1.1" />
<line x1="203.88" y1="541.80" x2="203.88" y2="543.40" stroke="#1a1a1a" stroke-width="0.8" />
<line x1="208.19" y1="541.80" x2="208.19" y2="543.40" stroke="#1a1a1a" stroke-width="0.8" />
<line x1="211.25" y1="541.80" x2="211.25" y2="543.40" stroke="#1a1a1a" stroke-width="0.8" />
<line x1="213.62" y1="541.80" x2="213.62" y2="543.40" stroke="#1a1a1a" stroke-width="0.8" />
<line x1="215.56" y1="541.80" x2="215.56" y2="543.40" stroke="#1a1a1a" stroke-width="0.8" />
<line x1="217.20" y1="541.80" x2="217.20" y2="543.40" stroke="#1a1a1a" stroke-width="0.8" />
<line x1="218.63" y1="541.80" x2="218.63" y2="543.40" stroke="#1a1a1a" stroke-width="0.8" />
<line x1="219.88" y1="541.80" x2="219.88" y2="543.40" stroke="#1a1a1a" stroke-width="0.8" />
<line x1="221.00" y1="541.80" x2="221.00" y2="544.80" stroke="#1a1a1a" stroke-width="1.1" />
<line x1="228.38" y1="541.80" x2="228.38" y2="543.40" stroke="#1a1a1a" stroke-width="0.8" />
<line x1="232.69" y1="541.80" x2="232.69" y2="543.40" stroke="#1a1a1a" stroke-width="0.8" />
<line x1="235.75" y1="541.80" x2="235.75" y2="543.40" stroke="#1a1a1a" stroke-width="0.8" />
<line x1="238.12" y1="541.80" x2="238.12" y2="543.40" stroke="#1a1a1a" stroke-width="0.8" />
<line x1="240.06" y1="541.80" x2="240.06" y2="543.40" stroke="#1a1a1a" stroke-width="0.8" />
<line x1="241.70" y1="541.80" x2="241.70" y2="543.40" stroke="#1a1a1a" stroke-width="0.8" />
<line x1="243.13" y1="541.80" x2="243.13" y2="543.40" stroke="#1a1a1a" stroke-width="0.8" />
<line x1="244.38" y1="541.80" x2="244.38" y2="543.40" stroke="#1a1a1a" stroke-width="0.8" />
<line x1="245.50" y1="541.80" x2="245.50" y2="544.80" stroke="#1a1a1a" stroke-width="1.1" />
<line x1="252.88" y1="541.80" x2="252.88" y2="543.40" stroke="#1a1a1a" stroke-width="0.8" />
<line x1="257.19" y1="541.80" x2="257.19" y2="543.40" stroke="#1a1a1a" stroke-width="0.8" />
<line x1="260.25" y1="541.80" x2="260.25" y2="543.40" stroke="#1a1a1a" stroke-width="0.8" />
<line x1="262.62" y1="541.80" x2="262.62" y2="543.40" stroke="#1a1a1a" stroke-width="0.8" />
<line x1="264.56" y1="541.80" x2="264.56" y2="543.40" stroke="#1a1a1a" stroke-width="0.8" />
<line x1="266.20" y1="541.80" x2="266.20" y2="543.40" stroke="#1a1a1a" stroke-width="0.8" />
<line x1="267.63" y1="541.80" x2="267.63" y2="543.40" stroke="#1a1a1a" stroke-width="0.8" />
<line x1="268.88" y1="541.80" x2="268.88" y2="543.40" stroke="#1a1a1a" stroke-width="0.8" />
<line x1="270.00" y1="541.80" x2="270.00" y2="544.80" stroke="#1a1a1a" stroke-width="1.1" />
<text x="166.70" y="558.4" font-size="8.4" fill="#2a2a2a" textLength="8.9" lengthAdjust="spacingAndGlyphs">10</text>
<text x="175.60" y="555.3" font-size="5.6" fill="#2a2a2a">0</text>
<text x="191.20" y="558.4" font-size="8.4" fill="#2a2a2a" textLength="8.9" lengthAdjust="spacingAndGlyphs">10</text>
<text x="200.10" y="555.3" font-size="5.6" fill="#2a2a2a">1</text>
<text x="215.70" y="558.4" font-size="8.4" fill="#2a2a2a" textLength="8.9" lengthAdjust="spacingAndGlyphs">10</text>
<text x="224.60" y="555.3" font-size="5.6" fill="#2a2a2a">2</text>
<text x="240.20" y="558.4" font-size="8.4" fill="#2a2a2a" textLength="8.9" lengthAdjust="spacingAndGlyphs">10</text>
<text x="249.10" y="555.3" font-size="5.6" fill="#2a2a2a">3</text>
<text x="264.70" y="558.4" font-size="8.4" fill="#2a2a2a" textLength="8.9" lengthAdjust="spacingAndGlyphs">10</text>
<text x="273.60" y="555.3" font-size="5.6" fill="#2a2a2a">4</text>
<text x="129.70" y="572.50" font-size="9.5" textLength="51.60" lengthAdjust="spacingAndGlyphs" fill="#2a2a2a" >CellTrace violet</text>
<rect x="276.5" y="473.2" width="30.6" height="8.4" fill="#dc9886" stroke="#8a1538" stroke-width="1.7" stroke-dasharray="3,1.6"/>
<rect x="276.5" y="488.5" width="30.6" height="8.3" fill="#fff" stroke="#22406f" stroke-width="1.5"/>
<rect x="276.5" y="504.3" width="30.6" height="8.3" fill="#fff" stroke="#72b04a" stroke-width="1.5"/>
<text x="310.80" y="480.20" font-size="7.6" textLength="33.70" lengthAdjust="spacingAndGlyphs" fill="#2a2a2a" >Colcemid</text>
<text x="310.80" y="495.60" font-size="7.6" textLength="26.70" lengthAdjust="spacingAndGlyphs" fill="#2a2a2a" >sh-E2F1</text>
<text x="310.80" y="511.30" font-size="7.6" textLength="46.20" lengthAdjust="spacingAndGlyphs" fill="#2a2a2a" >sh-scrambled</text>
<text x="373.60" y="391.40" font-size="11" font-weight="bold" fill="#111" stroke="#111" stroke-width="0.45">E</text>
<rect x="448.00" y="400.90" width="14.50" height="5.20" fill="#2c4a80" />
<rect x="448.00" y="412.80" width="14.50" height="5.20" fill="#69a843" />
<text x="465.80" y="406.30" font-size="7.6" textLength="27.30" lengthAdjust="spacingAndGlyphs" fill="#2a2a2a" >sh-E2F1</text>
<text x="465.80" y="418.20" font-size="7.6" textLength="46.50" lengthAdjust="spacingAndGlyphs" fill="#2a2a2a" >sh-scrambled</text>
<line x1="409.30" y1="400.00" x2="409.30" y2="542.30" stroke="#1a1a1a" stroke-width="1.6" />
<line x1="406.70" y1="402.50" x2="409.30" y2="402.50" stroke="#1a1a1a" stroke-width="1.4" />
<text x="403.80" y="405.40" font-size="8.3" text-anchor="end" textLength="8.80" lengthAdjust="spacingAndGlyphs" fill="#2a2a2a" >40</text>
<line x1="406.70" y1="437.50" x2="409.30" y2="437.50" stroke="#1a1a1a" stroke-width="1.4" />
<text x="403.80" y="440.40" font-size="8.3" text-anchor="end" textLength="8.80" lengthAdjust="spacingAndGlyphs" fill="#2a2a2a" >30</text>
<line x1="406.70" y1="472.00" x2="409.30" y2="472.00" stroke="#1a1a1a" stroke-width="1.4" />
<text x="403.80" y="474.90" font-size="8.3" text-anchor="end" textLength="8.80" lengthAdjust="spacingAndGlyphs" fill="#2a2a2a" >20</text>
<line x1="406.70" y1="506.80" x2="409.30" y2="506.80" stroke="#1a1a1a" stroke-width="1.4" />
<text x="403.80" y="509.70" font-size="8.3" text-anchor="end" textLength="8.80" lengthAdjust="spacingAndGlyphs" fill="#2a2a2a" >10</text>
<line x1="406.70" y1="541.60" x2="409.30" y2="541.60" stroke="#1a1a1a" stroke-width="1.4" />
<text x="403.80" y="544.50" font-size="8.3" text-anchor="end" textLength="4.40" lengthAdjust="spacingAndGlyphs" fill="#2a2a2a" >0</text>
<line x1="408.00" y1="541.60" x2="512.80" y2="541.60" stroke="#1a1a1a" stroke-width="1.6" />
<line x1="434.70" y1="541.60" x2="434.70" y2="545.10" stroke="#1a1a1a" stroke-width="1.3" />
<line x1="486.30" y1="541.60" x2="486.30" y2="545.10" stroke="#1a1a1a" stroke-width="1.3" />
<line x1="425.60" y1="443.00" x2="425.60" y2="411.30" stroke="#1a1a1a" stroke-width="1.35" />
<line x1="422.50" y1="411.30" x2="428.80" y2="411.30" stroke="#1a1a1a" stroke-width="1.4" />
<rect x="419.20" y="443.00" width="12.80" height="98.60" fill="#2c4a80" />
<line x1="445.00" y1="520.60" x2="445.00" y2="519.20" stroke="#1a1a1a" stroke-width="1.35" />
<line x1="441.50" y1="519.20" x2="448.50" y2="519.20" stroke="#1a1a1a" stroke-width="1.4" />
<rect x="438.40" y="520.60" width="13.20" height="21.00" fill="#69a843" />
<line x1="477.30" y1="502.70" x2="477.30" y2="492.00" stroke="#1a1a1a" stroke-width="1.35" />
<line x1="474.50" y1="492.00" x2="480.50" y2="492.00" stroke="#1a1a1a" stroke-width="1.4" />
<rect x="471.00" y="502.70" width="12.60" height="38.90" fill="#2c4a80" />
<line x1="496.80" y1="507.10" x2="496.80" y2="496.70" stroke="#1a1a1a" stroke-width="1.35" />
<line x1="492.60" y1="496.70" x2="500.40" y2="496.70" stroke="#1a1a1a" stroke-width="1.4" />
<rect x="490.30" y="507.10" width="13.00" height="34.50" fill="#69a843" />
<text x="425.80" y="412.00" font-size="8.5" text-anchor="middle" font-weight="bold" fill="#2a2a2a" >*</text>
<text x="435.30" y="555.20" font-size="8.3" text-anchor="middle" textLength="18.10" lengthAdjust="spacingAndGlyphs" fill="#2a2a2a" >CML</text>
<text x="487.00" y="555.20" font-size="8.3" text-anchor="middle" textLength="27.70" lengthAdjust="spacingAndGlyphs" fill="#2a2a2a" >Normal</text>
<text transform="translate(388.00,470.50) rotate(-90)" x="0" y="0" font-size="9.7" text-anchor="middle" textLength="82.30" lengthAdjust="spacingAndGlyphs" fill="#2a2a2a" >Early apoptotic cells (%)</text>
<rect x="0.00" y="0.00" width="520.00" height="1.50" fill="#0d0d0d" />
<rect x="0.00" y="0.00" width="1.50" height="582.00" fill="#0d0d0d" />
<rect x="518.30" y="0.00" width="1.70" height="582.00" fill="#0d0d0d" />
<rect x="0.00" y="580.20" width="520.00" height="1.80" fill="#0d0d0d" />
</svg></body></html>
